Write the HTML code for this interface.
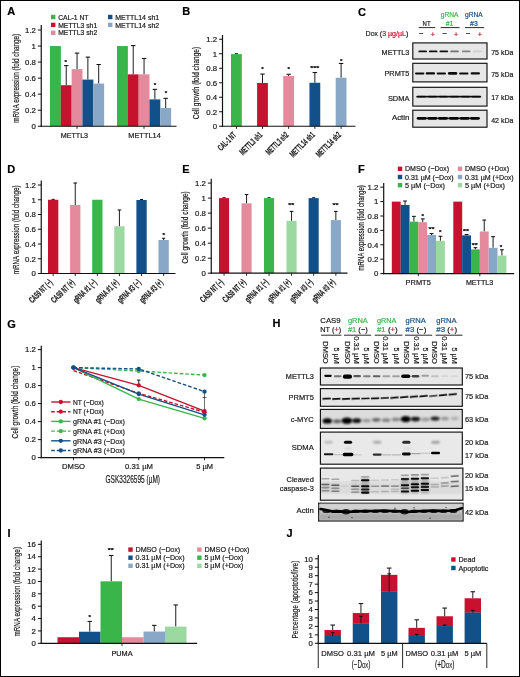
<!DOCTYPE html>
<html lang="en">
<head>
<meta charset="utf-8">
<title>Figure</title>
<style>
html,body{margin:0;padding:0;background:#fff;}
body{width:520px;height:677px;overflow:hidden;}
svg{display:block;will-change:transform;}
svg text{font-family:"Liberation Sans",sans-serif;stroke-width:0.2px;}
</style>
</head>
<body>
<svg width="520" height="677" viewBox="0 0 520 677">
<defs><filter id="b05" x="-50%" y="-300%" width="200%" height="700%"><feGaussianBlur stdDeviation="0.45"/></filter><filter id="b07" x="-50%" y="-300%" width="200%" height="700%"><feGaussianBlur stdDeviation="0.7"/></filter><filter id="b09" x="-50%" y="-300%" width="200%" height="700%"><feGaussianBlur stdDeviation="0.85"/></filter><filter id="b1" x="-50%" y="-300%" width="200%" height="700%"><feGaussianBlur stdDeviation="1.0"/></filter></defs>
<rect x="0" y="0" width="520" height="677" fill="#fff"/>
<text x="7.30" y="15.40" font-size="11" fill="#000" stroke="#000" font-weight="bold">A</text>
<rect x="50.00" y="46.05" width="10.87" height="80.20" fill="#3ab54a"/>
<line x1="66.23" y1="65.62" x2="66.23" y2="85.19" stroke="#111" stroke-width="0.95"/>
<line x1="64.03" y1="65.62" x2="68.43" y2="65.62" stroke="#111" stroke-width="1.05"/>
<rect x="60.82" y="85.19" width="10.87" height="41.06" fill="#c6122f"/>
<line x1="77.05" y1="53.11" x2="77.05" y2="69.15" stroke="#111" stroke-width="0.95"/>
<line x1="74.85" y1="53.11" x2="79.25" y2="53.11" stroke="#111" stroke-width="1.05"/>
<rect x="71.64" y="69.15" width="10.87" height="57.10" fill="#e38b9c"/>
<line x1="87.87" y1="57.12" x2="87.87" y2="79.57" stroke="#111" stroke-width="0.95"/>
<line x1="85.67" y1="57.12" x2="90.07" y2="57.12" stroke="#111" stroke-width="1.05"/>
<rect x="82.46" y="79.57" width="10.87" height="46.68" fill="#12508a"/>
<line x1="98.69" y1="64.50" x2="98.69" y2="83.58" stroke="#111" stroke-width="0.95"/>
<line x1="96.49" y1="64.50" x2="100.89" y2="64.50" stroke="#111" stroke-width="1.05"/>
<rect x="93.28" y="83.58" width="10.87" height="42.67" fill="#89a8c7"/>
<rect x="117.00" y="46.05" width="10.87" height="80.20" fill="#3ab54a"/>
<line x1="133.23" y1="45.57" x2="133.23" y2="74.36" stroke="#111" stroke-width="0.95"/>
<line x1="131.03" y1="45.57" x2="135.43" y2="45.57" stroke="#111" stroke-width="1.05"/>
<rect x="127.82" y="74.36" width="10.87" height="51.89" fill="#c6122f"/>
<line x1="144.05" y1="58.48" x2="144.05" y2="74.36" stroke="#111" stroke-width="0.95"/>
<line x1="141.85" y1="58.48" x2="146.25" y2="58.48" stroke="#111" stroke-width="1.05"/>
<rect x="138.64" y="74.36" width="10.87" height="51.89" fill="#e38b9c"/>
<line x1="154.87" y1="89.36" x2="154.87" y2="99.38" stroke="#111" stroke-width="0.95"/>
<line x1="152.67" y1="89.36" x2="157.07" y2="89.36" stroke="#111" stroke-width="1.05"/>
<rect x="149.46" y="99.38" width="10.87" height="26.87" fill="#12508a"/>
<line x1="165.69" y1="98.34" x2="165.69" y2="108.04" stroke="#111" stroke-width="0.95"/>
<line x1="163.49" y1="98.34" x2="167.89" y2="98.34" stroke="#111" stroke-width="1.05"/>
<rect x="160.28" y="108.04" width="10.87" height="18.21" fill="#89a8c7"/>
<line x1="41.25" y1="25.00" x2="41.25" y2="126.85" stroke="#111" stroke-width="1.2"/>
<line x1="40.65" y1="126.25" x2="176.50" y2="126.25" stroke="#111" stroke-width="1.2"/>
<line x1="37.85" y1="126.25" x2="41.25" y2="126.25" stroke="#111" stroke-width="1.0"/>
<text x="35.95" y="129.00" font-size="7.8" text-anchor="end" fill="#1a1a1a" stroke="#1a1a1a">0</text>
<line x1="37.85" y1="110.21" x2="41.25" y2="110.21" stroke="#111" stroke-width="1.0"/>
<text x="35.95" y="112.96" font-size="7.8" text-anchor="end" fill="#1a1a1a" stroke="#1a1a1a">0.2</text>
<line x1="37.85" y1="94.17" x2="41.25" y2="94.17" stroke="#111" stroke-width="1.0"/>
<text x="35.95" y="96.92" font-size="7.8" text-anchor="end" fill="#1a1a1a" stroke="#1a1a1a">0.4</text>
<line x1="37.85" y1="78.13" x2="41.25" y2="78.13" stroke="#111" stroke-width="1.0"/>
<text x="35.95" y="80.88" font-size="7.8" text-anchor="end" fill="#1a1a1a" stroke="#1a1a1a">0.6</text>
<line x1="37.85" y1="62.09" x2="41.25" y2="62.09" stroke="#111" stroke-width="1.0"/>
<text x="35.95" y="64.84" font-size="7.8" text-anchor="end" fill="#1a1a1a" stroke="#1a1a1a">0.8</text>
<line x1="37.85" y1="46.05" x2="41.25" y2="46.05" stroke="#111" stroke-width="1.0"/>
<text x="35.95" y="48.80" font-size="7.8" text-anchor="end" fill="#1a1a1a" stroke="#1a1a1a">1</text>
<line x1="37.85" y1="30.01" x2="41.25" y2="30.01" stroke="#111" stroke-width="1.0"/>
<text x="35.95" y="32.76" font-size="7.8" text-anchor="end" fill="#1a1a1a" stroke="#1a1a1a">1.2</text>
<line x1="77.00" y1="126.25" x2="77.00" y2="128.85" stroke="#111" stroke-width="0.9"/>
<line x1="144.00" y1="126.25" x2="144.00" y2="128.85" stroke="#111" stroke-width="0.9"/>
<text x="74.40" y="138.20" font-size="7.36" text-anchor="middle" fill="#1a1a1a" stroke="#1a1a1a" textLength="27.40" lengthAdjust="spacingAndGlyphs">METTL3</text>
<text x="144.50" y="138.20" font-size="7.62" text-anchor="middle" fill="#1a1a1a" stroke="#1a1a1a" textLength="32.50" lengthAdjust="spacingAndGlyphs">METTL14</text>
<text x="19.10" y="122.70" font-size="9.4" textLength="88.80" lengthAdjust="spacingAndGlyphs" fill="#1a1a1a" stroke="#1a1a1a" stroke-width="0.5" transform="rotate(-90 19.10 122.70)">mRNA expression (fold change)</text>
<text x="65.70" y="64.30" font-size="6.2" text-anchor="middle" fill="#000" stroke="#000" font-weight="bold">*</text>
<text x="155.00" y="86.50" font-size="6.2" text-anchor="middle" fill="#000" stroke="#000" font-weight="bold">*</text>
<text x="166.00" y="95.20" font-size="6.2" text-anchor="middle" fill="#000" stroke="#000" font-weight="bold">*</text>
<rect x="51.00" y="14.80" width="4.40" height="4.40" fill="#3ab54a"/>
<text x="58.20" y="19.60" font-size="7.02" fill="#1a1a1a" stroke="#1a1a1a" textLength="30.30" lengthAdjust="spacingAndGlyphs">CAL-1 NT</text>
<rect x="51.00" y="22.70" width="4.40" height="4.40" fill="#c6122f"/>
<text x="58.20" y="27.50" font-size="7.02" fill="#1a1a1a" stroke="#1a1a1a" textLength="39.00" lengthAdjust="spacingAndGlyphs">METTL3 sh1</text>
<rect x="51.00" y="30.60" width="4.40" height="4.40" fill="#e38b9c"/>
<text x="58.20" y="35.40" font-size="7.02" fill="#1a1a1a" stroke="#1a1a1a" textLength="39.00" lengthAdjust="spacingAndGlyphs">METTL3 sh2</text>
<rect x="108.00" y="14.80" width="4.40" height="4.40" fill="#12508a"/>
<text x="115.20" y="19.60" font-size="7.22" fill="#1a1a1a" stroke="#1a1a1a" textLength="44.00" lengthAdjust="spacingAndGlyphs">METTL14 sh1</text>
<rect x="108.00" y="22.70" width="4.40" height="4.40" fill="#89a8c7"/>
<text x="115.20" y="27.50" font-size="7.22" fill="#1a1a1a" stroke="#1a1a1a" textLength="44.00" lengthAdjust="spacingAndGlyphs">METTL14 sh2</text>
<text x="182.30" y="15.00" font-size="11" fill="#000" stroke="#000" font-weight="bold">B</text>
<line x1="236.40" y1="53.75" x2="236.40" y2="54.11" stroke="#111" stroke-width="0.95"/>
<line x1="234.80" y1="53.75" x2="238.00" y2="53.75" stroke="#111" stroke-width="1.05"/>
<rect x="231.00" y="54.11" width="10.80" height="72.14" fill="#3ab54a"/>
<line x1="262.50" y1="74.05" x2="262.50" y2="82.97" stroke="#111" stroke-width="0.95"/>
<line x1="260.30" y1="74.05" x2="264.70" y2="74.05" stroke="#111" stroke-width="1.05"/>
<rect x="257.10" y="82.97" width="10.80" height="43.28" fill="#c6122f"/>
<line x1="288.65" y1="74.27" x2="288.65" y2="76.01" stroke="#111" stroke-width="0.95"/>
<line x1="286.45" y1="74.27" x2="290.85" y2="74.27" stroke="#111" stroke-width="1.05"/>
<rect x="283.25" y="76.01" width="10.80" height="50.24" fill="#e38b9c"/>
<line x1="314.85" y1="72.53" x2="314.85" y2="82.75" stroke="#111" stroke-width="0.95"/>
<line x1="312.65" y1="72.53" x2="317.05" y2="72.53" stroke="#111" stroke-width="1.05"/>
<rect x="309.45" y="82.75" width="10.80" height="43.50" fill="#12508a"/>
<line x1="341.10" y1="63.47" x2="341.10" y2="77.75" stroke="#111" stroke-width="0.95"/>
<line x1="338.90" y1="63.47" x2="343.30" y2="63.47" stroke="#111" stroke-width="1.05"/>
<rect x="335.70" y="77.75" width="10.80" height="48.50" fill="#89a8c7"/>
<line x1="222.50" y1="35.00" x2="222.50" y2="126.85" stroke="#111" stroke-width="1.2"/>
<line x1="221.90" y1="126.25" x2="355.50" y2="126.25" stroke="#111" stroke-width="1.2"/>
<line x1="219.10" y1="126.25" x2="222.50" y2="126.25" stroke="#111" stroke-width="1.0"/>
<text x="217.20" y="129.00" font-size="7.8" text-anchor="end" fill="#1a1a1a" stroke="#1a1a1a">0</text>
<line x1="219.10" y1="111.75" x2="222.50" y2="111.75" stroke="#111" stroke-width="1.0"/>
<text x="217.20" y="114.50" font-size="7.8" text-anchor="end" fill="#1a1a1a" stroke="#1a1a1a">0.2</text>
<line x1="219.10" y1="97.25" x2="222.50" y2="97.25" stroke="#111" stroke-width="1.0"/>
<text x="217.20" y="100.00" font-size="7.8" text-anchor="end" fill="#1a1a1a" stroke="#1a1a1a">0.4</text>
<line x1="219.10" y1="82.75" x2="222.50" y2="82.75" stroke="#111" stroke-width="1.0"/>
<text x="217.20" y="85.50" font-size="7.8" text-anchor="end" fill="#1a1a1a" stroke="#1a1a1a">0.6</text>
<line x1="219.10" y1="68.25" x2="222.50" y2="68.25" stroke="#111" stroke-width="1.0"/>
<text x="217.20" y="71.00" font-size="7.8" text-anchor="end" fill="#1a1a1a" stroke="#1a1a1a">0.8</text>
<line x1="219.10" y1="53.75" x2="222.50" y2="53.75" stroke="#111" stroke-width="1.0"/>
<text x="217.20" y="56.50" font-size="7.8" text-anchor="end" fill="#1a1a1a" stroke="#1a1a1a">1</text>
<line x1="219.10" y1="39.25" x2="222.50" y2="39.25" stroke="#111" stroke-width="1.0"/>
<text x="217.20" y="42.00" font-size="7.8" text-anchor="end" fill="#1a1a1a" stroke="#1a1a1a">1.2</text>
<line x1="236.40" y1="126.25" x2="236.40" y2="128.85" stroke="#111" stroke-width="0.9"/>
<text x="236.90" y="135.65" font-size="9.0" text-anchor="end" textLength="22.00" lengthAdjust="spacingAndGlyphs" fill="#1a1a1a" stroke="#1a1a1a" stroke-width="0.25" font-weight="bold" transform="rotate(-45 236.90 135.65)">CAL-1 NT</text>
<line x1="262.50" y1="126.25" x2="262.50" y2="128.85" stroke="#111" stroke-width="0.9"/>
<text x="263.00" y="135.65" font-size="9.0" text-anchor="end" textLength="28.20" lengthAdjust="spacingAndGlyphs" fill="#1a1a1a" stroke="#1a1a1a" stroke-width="0.25" font-weight="bold" transform="rotate(-45 263.00 135.65)">METTL3 sh1</text>
<line x1="288.65" y1="126.25" x2="288.65" y2="128.85" stroke="#111" stroke-width="0.9"/>
<text x="289.15" y="135.65" font-size="9.0" text-anchor="end" textLength="28.20" lengthAdjust="spacingAndGlyphs" fill="#1a1a1a" stroke="#1a1a1a" stroke-width="0.25" font-weight="bold" transform="rotate(-45 289.15 135.65)">METTL3 sh2</text>
<line x1="314.85" y1="126.25" x2="314.85" y2="128.85" stroke="#111" stroke-width="0.9"/>
<text x="315.35" y="135.65" font-size="9.0" text-anchor="end" textLength="31.40" lengthAdjust="spacingAndGlyphs" fill="#1a1a1a" stroke="#1a1a1a" stroke-width="0.25" font-weight="bold" transform="rotate(-45 315.35 135.65)">METTL14 sh1</text>
<line x1="341.10" y1="126.25" x2="341.10" y2="128.85" stroke="#111" stroke-width="0.9"/>
<text x="341.60" y="135.65" font-size="9.0" text-anchor="end" textLength="31.40" lengthAdjust="spacingAndGlyphs" fill="#1a1a1a" stroke="#1a1a1a" stroke-width="0.25" font-weight="bold" transform="rotate(-45 341.60 135.65)">METTL14 sh2</text>
<text x="199.00" y="119.20" font-size="9.4" textLength="72.30" lengthAdjust="spacingAndGlyphs" fill="#1a1a1a" stroke="#1a1a1a" stroke-width="0.5" transform="rotate(-90 199.00 119.20)">Cell growth (fold change)</text>
<text x="262.40" y="70.90" font-size="6.2" text-anchor="middle" fill="#000" stroke="#000" font-weight="bold">*</text>
<text x="288.60" y="70.90" font-size="6.2" text-anchor="middle" fill="#000" stroke="#000" font-weight="bold">*</text>
<text x="314.80" y="70.20" font-size="6.2" text-anchor="middle" fill="#000" stroke="#000" font-weight="bold" textLength="8.90" lengthAdjust="spacingAndGlyphs">***</text>
<text x="341.10" y="62.50" font-size="6.2" text-anchor="middle" fill="#000" stroke="#000" font-weight="bold">*</text>
<text x="358.00" y="15.80" font-size="11" fill="#000" stroke="#000" font-weight="bold">C</text>
<text x="426.60" y="25.60" font-size="6.4" text-anchor="middle" fill="#1a1a1a" stroke="#1a1a1a" textLength="8.00" lengthAdjust="spacingAndGlyphs">NT</text>
<line x1="418.70" y1="27.60" x2="435.20" y2="27.60" stroke="#111" stroke-width="0.9"/>
<text x="449.60" y="16.80" font-size="6.8" text-anchor="middle" fill="#3ab54a" stroke="#3ab54a" textLength="17.60" lengthAdjust="spacingAndGlyphs">gRNA</text>
<text x="449.60" y="25.60" font-size="7.04" text-anchor="middle" fill="#3ab54a" stroke="#3ab54a" textLength="7.60" lengthAdjust="spacingAndGlyphs">#1</text>
<line x1="440.60" y1="27.60" x2="459.60" y2="27.60" stroke="#111" stroke-width="0.9"/>
<text x="473.90" y="16.80" font-size="6.8" text-anchor="middle" fill="#12508a" stroke="#12508a" textLength="17.60" lengthAdjust="spacingAndGlyphs">gRNA</text>
<text x="473.90" y="25.60" font-size="7.04" text-anchor="middle" fill="#12508a" stroke="#12508a" textLength="7.60" lengthAdjust="spacingAndGlyphs">#3</text>
<line x1="465.00" y1="27.60" x2="484.20" y2="27.60" stroke="#111" stroke-width="0.9"/>
<text x="365.60" y="36.00" font-size="7.23" fill="#1a1a1a" stroke="#1a1a1a" textLength="42.80" lengthAdjust="spacingAndGlyphs">D<tspan font-variant="small-caps">ox</tspan> (<tspan fill="#c6122f" stroke="#c6122f">3 µg/µL</tspan>)</text>
<text x="421.40" y="36.40" font-size="8" text-anchor="middle" fill="#1a1a1a" stroke="#1a1a1a">−</text>
<text x="432.90" y="36.60" font-size="8" text-anchor="middle" fill="#c6122f" stroke="#c6122f">+</text>
<text x="444.80" y="36.40" font-size="8" text-anchor="middle" fill="#1a1a1a" stroke="#1a1a1a">−</text>
<text x="456.10" y="36.60" font-size="8" text-anchor="middle" fill="#c6122f" stroke="#c6122f">+</text>
<text x="468.30" y="36.40" font-size="8" text-anchor="middle" fill="#1a1a1a" stroke="#1a1a1a">−</text>
<text x="479.90" y="36.60" font-size="8" text-anchor="middle" fill="#c6122f" stroke="#c6122f">+</text>
<rect x="412.80" y="42.90" width="74.20" height="16.10" fill="#e6e6e6" stroke="#111" stroke-width="1.15"/>
<rect x="418.40" y="50.45" width="8.60" height="1.90" rx="0.95" fill="#000" opacity="0.92" filter="url(#b05)"/>
<rect x="428.90" y="50.45" width="8.60" height="1.90" rx="0.95" fill="#000" opacity="0.95" filter="url(#b05)"/>
<rect x="439.50" y="50.45" width="8.60" height="1.90" rx="0.95" fill="#000" opacity="0.92" filter="url(#b05)"/>
<rect x="450.20" y="50.45" width="8.60" height="1.90" rx="0.95" fill="#000" opacity="0.5" filter="url(#b05)"/>
<rect x="461.90" y="50.45" width="8.60" height="1.90" rx="0.95" fill="#000" opacity="0.42" filter="url(#b05)"/>
<rect x="473.00" y="50.45" width="8.60" height="1.90" rx="0.95" fill="#000" opacity="0.1" filter="url(#b05)"/>
<rect x="412.80" y="63.30" width="74.20" height="18.60" fill="#e6e6e6" stroke="#111" stroke-width="1.15"/>
<rect x="415.00" y="72.40" width="9.40" height="2.00" rx="1.00" fill="#000" opacity="0.95" filter="url(#b05)"/>
<rect x="425.70" y="72.35" width="9.40" height="2.10" rx="1.05" fill="#000" opacity="0.95" filter="url(#b05)"/>
<rect x="436.60" y="72.40" width="9.40" height="2.00" rx="1.00" fill="#000" opacity="0.95" filter="url(#b05)"/>
<rect x="447.90" y="72.05" width="9.40" height="2.70" rx="1.35" fill="#000" opacity="0.95" filter="url(#b05)"/>
<rect x="459.10" y="72.40" width="9.40" height="2.00" rx="1.00" fill="#000" opacity="0.95" filter="url(#b05)"/>
<rect x="470.60" y="72.25" width="9.40" height="2.30" rx="1.15" fill="#000" opacity="0.95" filter="url(#b05)"/>
<rect x="412.80" y="87.30" width="74.20" height="18.80" fill="#e6e6e6" stroke="#111" stroke-width="1.15"/>
<rect x="416.20" y="95.85" width="65.00" height="1.70" rx="0.85" fill="#000" opacity="0.92" filter="url(#b05)"/>
<rect x="417.25" y="95.80" width="8.50" height="2.00" rx="1.00" fill="#000" opacity="0.5" filter="url(#b05)"/>
<rect x="428.25" y="95.80" width="8.50" height="2.00" rx="1.00" fill="#000" opacity="0.5" filter="url(#b05)"/>
<rect x="439.25" y="95.80" width="8.50" height="2.00" rx="1.00" fill="#000" opacity="0.5" filter="url(#b05)"/>
<rect x="450.25" y="95.80" width="8.50" height="2.00" rx="1.00" fill="#000" opacity="0.5" filter="url(#b05)"/>
<rect x="461.25" y="95.80" width="8.50" height="2.00" rx="1.00" fill="#000" opacity="0.5" filter="url(#b05)"/>
<rect x="471.75" y="95.80" width="8.50" height="2.00" rx="1.00" fill="#000" opacity="0.5" filter="url(#b05)"/>
<rect x="412.80" y="110.20" width="74.20" height="17.00" fill="#e6e6e6" stroke="#111" stroke-width="1.15"/>
<rect x="416.70" y="116.95" width="9.80" height="2.70" rx="1.35" fill="#000" opacity="0.95" filter="url(#b05)"/>
<rect x="427.40" y="116.95" width="9.80" height="2.70" rx="1.35" fill="#000" opacity="0.95" filter="url(#b05)"/>
<rect x="438.10" y="116.95" width="9.80" height="2.70" rx="1.35" fill="#000" opacity="0.95" filter="url(#b05)"/>
<rect x="448.90" y="116.95" width="9.80" height="2.70" rx="1.35" fill="#000" opacity="0.95" filter="url(#b05)"/>
<rect x="459.70" y="116.95" width="9.80" height="2.70" rx="1.35" fill="#000" opacity="0.95" filter="url(#b05)"/>
<rect x="470.10" y="116.95" width="9.80" height="2.70" rx="1.35" fill="#000" opacity="0.95" filter="url(#b05)"/>
<rect x="417.30" y="117.60" width="62.00" height="1.60" rx="0.80" fill="#000" opacity="0.8" filter="url(#b05)"/>
<text x="409.40" y="54.90" font-size="7.47" text-anchor="end" fill="#1a1a1a" stroke="#1a1a1a" textLength="27.80" lengthAdjust="spacingAndGlyphs">METTL3</text>
<text x="409.40" y="75.50" font-size="7.6" text-anchor="end" fill="#1a1a1a" stroke="#1a1a1a" textLength="25.00" lengthAdjust="spacingAndGlyphs">PRMT5</text>
<text x="409.40" y="100.60" font-size="7.66" text-anchor="end" fill="#1a1a1a" stroke="#1a1a1a" textLength="21.50" lengthAdjust="spacingAndGlyphs">SDMA</text>
<text x="409.40" y="120.40" font-size="8.0" text-anchor="end" fill="#1a1a1a" stroke="#1a1a1a" textLength="17.50" lengthAdjust="spacingAndGlyphs">Actin</text>
<text x="491.20" y="54.60" font-size="7.22" fill="#1a1a1a" stroke="#1a1a1a" textLength="22.20" lengthAdjust="spacingAndGlyphs">75 kDa</text>
<text x="491.20" y="76.80" font-size="7.22" fill="#1a1a1a" stroke="#1a1a1a" textLength="22.20" lengthAdjust="spacingAndGlyphs">75 kDa</text>
<text x="491.20" y="99.70" font-size="7.22" fill="#1a1a1a" stroke="#1a1a1a" textLength="22.20" lengthAdjust="spacingAndGlyphs">17 kDa</text>
<text x="491.20" y="123.20" font-size="7.22" fill="#1a1a1a" stroke="#1a1a1a" textLength="22.20" lengthAdjust="spacingAndGlyphs">42 kDa</text>
<text x="7.30" y="173.00" font-size="11" fill="#000" stroke="#000" font-weight="bold">D</text>
<line x1="53.15" y1="199.38" x2="53.15" y2="199.75" stroke="#111" stroke-width="0.95"/>
<line x1="51.65" y1="199.38" x2="54.65" y2="199.38" stroke="#111" stroke-width="1.05"/>
<rect x="48.00" y="199.75" width="10.30" height="73.75" fill="#c6122f"/>
<line x1="75.25" y1="183.01" x2="75.25" y2="204.99" stroke="#111" stroke-width="0.95"/>
<line x1="73.45" y1="183.01" x2="77.05" y2="183.01" stroke="#111" stroke-width="1.05"/>
<rect x="70.10" y="204.99" width="10.30" height="68.51" fill="#e38b9c"/>
<rect x="92.20" y="199.75" width="10.30" height="73.75" fill="#3ab54a"/>
<line x1="119.40" y1="210.00" x2="119.40" y2="226.30" stroke="#111" stroke-width="0.95"/>
<line x1="117.60" y1="210.00" x2="121.20" y2="210.00" stroke="#111" stroke-width="1.05"/>
<rect x="114.25" y="226.30" width="10.30" height="47.20" fill="#9cd9a1"/>
<line x1="141.55" y1="199.53" x2="141.55" y2="199.97" stroke="#111" stroke-width="0.95"/>
<line x1="140.05" y1="199.53" x2="143.05" y2="199.53" stroke="#111" stroke-width="1.05"/>
<rect x="136.40" y="199.97" width="10.30" height="73.53" fill="#12508a"/>
<line x1="163.65" y1="238.25" x2="163.65" y2="240.02" stroke="#111" stroke-width="0.95"/>
<line x1="162.15" y1="238.25" x2="165.15" y2="238.25" stroke="#111" stroke-width="1.05"/>
<rect x="158.50" y="240.02" width="10.30" height="33.48" fill="#89a8c7"/>
<line x1="41.25" y1="180.50" x2="41.25" y2="274.10" stroke="#111" stroke-width="1.2"/>
<line x1="40.65" y1="273.50" x2="175.50" y2="273.50" stroke="#111" stroke-width="1.2"/>
<line x1="37.85" y1="273.50" x2="41.25" y2="273.50" stroke="#111" stroke-width="1.0"/>
<text x="35.95" y="276.25" font-size="7.8" text-anchor="end" fill="#1a1a1a" stroke="#1a1a1a">0</text>
<line x1="37.85" y1="258.75" x2="41.25" y2="258.75" stroke="#111" stroke-width="1.0"/>
<text x="35.95" y="261.50" font-size="7.8" text-anchor="end" fill="#1a1a1a" stroke="#1a1a1a">0.2</text>
<line x1="37.85" y1="244.00" x2="41.25" y2="244.00" stroke="#111" stroke-width="1.0"/>
<text x="35.95" y="246.75" font-size="7.8" text-anchor="end" fill="#1a1a1a" stroke="#1a1a1a">0.4</text>
<line x1="37.85" y1="229.25" x2="41.25" y2="229.25" stroke="#111" stroke-width="1.0"/>
<text x="35.95" y="232.00" font-size="7.8" text-anchor="end" fill="#1a1a1a" stroke="#1a1a1a">0.6</text>
<line x1="37.85" y1="214.50" x2="41.25" y2="214.50" stroke="#111" stroke-width="1.0"/>
<text x="35.95" y="217.25" font-size="7.8" text-anchor="end" fill="#1a1a1a" stroke="#1a1a1a">0.8</text>
<line x1="37.85" y1="199.75" x2="41.25" y2="199.75" stroke="#111" stroke-width="1.0"/>
<text x="35.95" y="202.50" font-size="7.8" text-anchor="end" fill="#1a1a1a" stroke="#1a1a1a">1</text>
<line x1="37.85" y1="185.00" x2="41.25" y2="185.00" stroke="#111" stroke-width="1.0"/>
<text x="35.95" y="187.75" font-size="7.8" text-anchor="end" fill="#1a1a1a" stroke="#1a1a1a">1.2</text>
<line x1="53.15" y1="273.50" x2="53.15" y2="276.10" stroke="#111" stroke-width="0.9"/>
<text x="52.95" y="283.10" font-size="9.0" text-anchor="end" textLength="29.00" lengthAdjust="spacingAndGlyphs" fill="#1a1a1a" stroke="#1a1a1a" stroke-width="0.25" font-weight="bold" transform="rotate(-45 52.95 283.10)">CAS9 NT (−)</text>
<line x1="75.25" y1="273.50" x2="75.25" y2="276.10" stroke="#111" stroke-width="0.9"/>
<text x="75.05" y="283.10" font-size="9.0" text-anchor="end" textLength="29.00" lengthAdjust="spacingAndGlyphs" fill="#1a1a1a" stroke="#1a1a1a" stroke-width="0.25" font-weight="bold" transform="rotate(-45 75.05 283.10)">CAS9 NT (+)</text>
<line x1="97.35" y1="273.50" x2="97.35" y2="276.10" stroke="#111" stroke-width="0.9"/>
<text x="97.15" y="283.10" font-size="9.0" text-anchor="end" textLength="29.00" lengthAdjust="spacingAndGlyphs" fill="#1a1a1a" stroke="#1a1a1a" stroke-width="0.25" font-weight="bold" transform="rotate(-45 97.15 283.10)">gRNA #1 (−)</text>
<line x1="119.40" y1="273.50" x2="119.40" y2="276.10" stroke="#111" stroke-width="0.9"/>
<text x="119.20" y="283.10" font-size="9.0" text-anchor="end" textLength="29.00" lengthAdjust="spacingAndGlyphs" fill="#1a1a1a" stroke="#1a1a1a" stroke-width="0.25" font-weight="bold" transform="rotate(-45 119.20 283.10)">gRNA #1 (+)</text>
<line x1="141.55" y1="273.50" x2="141.55" y2="276.10" stroke="#111" stroke-width="0.9"/>
<text x="141.35" y="283.10" font-size="9.0" text-anchor="end" textLength="29.00" lengthAdjust="spacingAndGlyphs" fill="#1a1a1a" stroke="#1a1a1a" stroke-width="0.25" font-weight="bold" transform="rotate(-45 141.35 283.10)">gRNA #3 (−)</text>
<line x1="163.65" y1="273.50" x2="163.65" y2="276.10" stroke="#111" stroke-width="0.9"/>
<text x="163.45" y="283.10" font-size="9.0" text-anchor="end" textLength="29.00" lengthAdjust="spacingAndGlyphs" fill="#1a1a1a" stroke="#1a1a1a" stroke-width="0.25" font-weight="bold" transform="rotate(-45 163.45 283.10)">gRNA #3 (+)</text>
<text x="19.10" y="274.30" font-size="9.4" textLength="89.00" lengthAdjust="spacingAndGlyphs" fill="#1a1a1a" stroke="#1a1a1a" stroke-width="0.5" transform="rotate(-90 19.10 274.30)">mRNA expression (fold change)</text>
<text x="163.70" y="236.50" font-size="6.2" text-anchor="middle" fill="#000" stroke="#000" font-weight="bold">*</text>
<text x="182.30" y="173.00" font-size="11" fill="#000" stroke="#000" font-weight="bold">E</text>
<line x1="224.05" y1="197.72" x2="224.05" y2="198.10" stroke="#111" stroke-width="0.95"/>
<line x1="222.55" y1="197.72" x2="225.55" y2="197.72" stroke="#111" stroke-width="1.05"/>
<rect x="219.00" y="198.10" width="10.10" height="75.10" fill="#c6122f"/>
<line x1="246.55" y1="194.57" x2="246.55" y2="203.36" stroke="#111" stroke-width="0.95"/>
<line x1="244.75" y1="194.57" x2="248.35" y2="194.57" stroke="#111" stroke-width="1.05"/>
<rect x="241.50" y="203.36" width="10.10" height="69.84" fill="#e38b9c"/>
<line x1="269.05" y1="197.72" x2="269.05" y2="198.10" stroke="#111" stroke-width="0.95"/>
<line x1="267.55" y1="197.72" x2="270.55" y2="197.72" stroke="#111" stroke-width="1.05"/>
<rect x="264.00" y="198.10" width="10.10" height="75.10" fill="#3ab54a"/>
<line x1="291.55" y1="211.39" x2="291.55" y2="220.86" stroke="#111" stroke-width="0.95"/>
<line x1="289.75" y1="211.39" x2="293.35" y2="211.39" stroke="#111" stroke-width="1.05"/>
<rect x="286.50" y="220.86" width="10.10" height="52.34" fill="#9cd9a1"/>
<line x1="313.65" y1="197.72" x2="313.65" y2="198.10" stroke="#111" stroke-width="0.95"/>
<line x1="312.15" y1="197.72" x2="315.15" y2="197.72" stroke="#111" stroke-width="1.05"/>
<rect x="308.60" y="198.10" width="10.10" height="75.10" fill="#12508a"/>
<line x1="335.85" y1="211.39" x2="335.85" y2="220.10" stroke="#111" stroke-width="0.95"/>
<line x1="334.05" y1="211.39" x2="337.65" y2="211.39" stroke="#111" stroke-width="1.05"/>
<rect x="330.80" y="220.10" width="10.10" height="53.10" fill="#89a8c7"/>
<line x1="211.25" y1="178.75" x2="211.25" y2="273.80" stroke="#111" stroke-width="1.2"/>
<line x1="210.65" y1="273.20" x2="347.50" y2="273.20" stroke="#111" stroke-width="1.2"/>
<line x1="207.85" y1="273.20" x2="211.25" y2="273.20" stroke="#111" stroke-width="1.0"/>
<text x="205.95" y="275.95" font-size="7.8" text-anchor="end" fill="#1a1a1a" stroke="#1a1a1a">0</text>
<line x1="207.85" y1="258.18" x2="211.25" y2="258.18" stroke="#111" stroke-width="1.0"/>
<text x="205.95" y="260.93" font-size="7.8" text-anchor="end" fill="#1a1a1a" stroke="#1a1a1a">0.2</text>
<line x1="207.85" y1="243.16" x2="211.25" y2="243.16" stroke="#111" stroke-width="1.0"/>
<text x="205.95" y="245.91" font-size="7.8" text-anchor="end" fill="#1a1a1a" stroke="#1a1a1a">0.4</text>
<line x1="207.85" y1="228.14" x2="211.25" y2="228.14" stroke="#111" stroke-width="1.0"/>
<text x="205.95" y="230.89" font-size="7.8" text-anchor="end" fill="#1a1a1a" stroke="#1a1a1a">0.6</text>
<line x1="207.85" y1="213.12" x2="211.25" y2="213.12" stroke="#111" stroke-width="1.0"/>
<text x="205.95" y="215.87" font-size="7.8" text-anchor="end" fill="#1a1a1a" stroke="#1a1a1a">0.8</text>
<line x1="207.85" y1="198.10" x2="211.25" y2="198.10" stroke="#111" stroke-width="1.0"/>
<text x="205.95" y="200.85" font-size="7.8" text-anchor="end" fill="#1a1a1a" stroke="#1a1a1a">1</text>
<line x1="207.85" y1="183.08" x2="211.25" y2="183.08" stroke="#111" stroke-width="1.0"/>
<text x="205.95" y="185.83" font-size="7.8" text-anchor="end" fill="#1a1a1a" stroke="#1a1a1a">1.2</text>
<line x1="224.05" y1="273.20" x2="224.05" y2="275.80" stroke="#111" stroke-width="0.9"/>
<text x="223.85" y="282.80" font-size="9.0" text-anchor="end" textLength="28.60" lengthAdjust="spacingAndGlyphs" fill="#1a1a1a" stroke="#1a1a1a" stroke-width="0.25" font-weight="bold" transform="rotate(-45 223.85 282.80)">CAS9 NT (−)</text>
<line x1="246.55" y1="273.20" x2="246.55" y2="275.80" stroke="#111" stroke-width="0.9"/>
<text x="246.35" y="282.80" font-size="9.0" text-anchor="end" textLength="28.60" lengthAdjust="spacingAndGlyphs" fill="#1a1a1a" stroke="#1a1a1a" stroke-width="0.25" font-weight="bold" transform="rotate(-45 246.35 282.80)">CAS9 NT (+)</text>
<line x1="269.05" y1="273.20" x2="269.05" y2="275.80" stroke="#111" stroke-width="0.9"/>
<text x="268.85" y="282.80" font-size="9.0" text-anchor="end" textLength="28.60" lengthAdjust="spacingAndGlyphs" fill="#1a1a1a" stroke="#1a1a1a" stroke-width="0.25" font-weight="bold" transform="rotate(-45 268.85 282.80)">gRNA #1 (−)</text>
<line x1="291.55" y1="273.20" x2="291.55" y2="275.80" stroke="#111" stroke-width="0.9"/>
<text x="291.35" y="282.80" font-size="9.0" text-anchor="end" textLength="28.60" lengthAdjust="spacingAndGlyphs" fill="#1a1a1a" stroke="#1a1a1a" stroke-width="0.25" font-weight="bold" transform="rotate(-45 291.35 282.80)">gRNA #1 (+)</text>
<line x1="313.65" y1="273.20" x2="313.65" y2="275.80" stroke="#111" stroke-width="0.9"/>
<text x="313.45" y="282.80" font-size="9.0" text-anchor="end" textLength="28.60" lengthAdjust="spacingAndGlyphs" fill="#1a1a1a" stroke="#1a1a1a" stroke-width="0.25" font-weight="bold" transform="rotate(-45 313.45 282.80)">gRNA #3 (−)</text>
<line x1="335.85" y1="273.20" x2="335.85" y2="275.80" stroke="#111" stroke-width="0.9"/>
<text x="335.65" y="282.80" font-size="9.0" text-anchor="end" textLength="28.60" lengthAdjust="spacingAndGlyphs" fill="#1a1a1a" stroke="#1a1a1a" stroke-width="0.25" font-weight="bold" transform="rotate(-45 335.65 282.80)">gRNA #3 (+)</text>
<text x="188.30" y="263.60" font-size="9.4" textLength="72.30" lengthAdjust="spacingAndGlyphs" fill="#1a1a1a" stroke="#1a1a1a" stroke-width="0.5" transform="rotate(-90 188.30 263.60)">Cell growth (fold change)</text>
<text x="291.30" y="207.20" font-size="6.2" text-anchor="middle" fill="#000" stroke="#000" font-weight="bold" textLength="5.90" lengthAdjust="spacingAndGlyphs">**</text>
<text x="335.40" y="207.20" font-size="6.2" text-anchor="middle" fill="#000" stroke="#000" font-weight="bold" textLength="5.90" lengthAdjust="spacingAndGlyphs">**</text>
<text x="358.00" y="173.20" font-size="11" fill="#000" stroke="#000" font-weight="bold">F</text>
<rect x="391.80" y="201.60" width="8.89" height="72.00" fill="#c6122f"/>
<line x1="405.06" y1="201.02" x2="405.06" y2="204.91" stroke="#111" stroke-width="0.95"/>
<line x1="403.16" y1="201.02" x2="406.96" y2="201.02" stroke="#111" stroke-width="1.05"/>
<rect x="400.64" y="204.91" width="8.89" height="68.69" fill="#12508a"/>
<line x1="413.90" y1="216.36" x2="413.90" y2="221.62" stroke="#111" stroke-width="0.95"/>
<line x1="412.00" y1="216.36" x2="415.80" y2="216.36" stroke="#111" stroke-width="1.05"/>
<rect x="409.48" y="221.62" width="8.89" height="51.98" fill="#3ab54a"/>
<line x1="422.74" y1="218.88" x2="422.74" y2="222.19" stroke="#111" stroke-width="0.95"/>
<line x1="420.84" y1="218.88" x2="424.64" y2="218.88" stroke="#111" stroke-width="1.05"/>
<rect x="418.32" y="222.19" width="8.89" height="51.41" fill="#e38b9c"/>
<line x1="431.58" y1="233.57" x2="431.58" y2="235.01" stroke="#111" stroke-width="0.95"/>
<line x1="429.68" y1="233.57" x2="433.48" y2="233.57" stroke="#111" stroke-width="1.05"/>
<rect x="427.16" y="235.01" width="8.89" height="38.59" fill="#89a8c7"/>
<line x1="440.42" y1="236.30" x2="440.42" y2="240.84" stroke="#111" stroke-width="0.95"/>
<line x1="438.52" y1="236.30" x2="442.32" y2="236.30" stroke="#111" stroke-width="1.05"/>
<rect x="436.00" y="240.84" width="8.89" height="32.76" fill="#9cd9a1"/>
<rect x="453.30" y="201.60" width="8.89" height="72.00" fill="#c6122f"/>
<line x1="466.56" y1="234.50" x2="466.56" y2="235.37" stroke="#111" stroke-width="0.95"/>
<line x1="464.66" y1="234.50" x2="468.46" y2="234.50" stroke="#111" stroke-width="1.05"/>
<rect x="462.14" y="235.37" width="8.89" height="38.23" fill="#12508a"/>
<line x1="475.40" y1="247.68" x2="475.40" y2="249.41" stroke="#111" stroke-width="0.95"/>
<line x1="473.50" y1="247.68" x2="477.30" y2="247.68" stroke="#111" stroke-width="1.05"/>
<rect x="470.98" y="249.41" width="8.89" height="24.19" fill="#3ab54a"/>
<line x1="484.24" y1="220.03" x2="484.24" y2="231.48" stroke="#111" stroke-width="0.95"/>
<line x1="482.34" y1="220.03" x2="486.14" y2="220.03" stroke="#111" stroke-width="1.05"/>
<rect x="479.82" y="231.48" width="8.89" height="42.12" fill="#e38b9c"/>
<line x1="493.08" y1="236.66" x2="493.08" y2="247.82" stroke="#111" stroke-width="0.95"/>
<line x1="491.18" y1="236.66" x2="494.98" y2="236.66" stroke="#111" stroke-width="1.05"/>
<rect x="488.66" y="247.82" width="8.89" height="25.78" fill="#89a8c7"/>
<line x1="501.92" y1="249.77" x2="501.92" y2="255.60" stroke="#111" stroke-width="0.95"/>
<line x1="500.02" y1="249.77" x2="503.82" y2="249.77" stroke="#111" stroke-width="1.05"/>
<rect x="497.50" y="255.60" width="8.89" height="18.00" fill="#9cd9a1"/>
<line x1="383.70" y1="183.00" x2="383.70" y2="274.20" stroke="#111" stroke-width="1.2"/>
<line x1="383.10" y1="273.60" x2="514.20" y2="273.60" stroke="#111" stroke-width="1.2"/>
<line x1="380.30" y1="273.60" x2="383.70" y2="273.60" stroke="#111" stroke-width="1.0"/>
<text x="378.40" y="276.35" font-size="7.8" text-anchor="end" fill="#1a1a1a" stroke="#1a1a1a">0</text>
<line x1="380.30" y1="259.20" x2="383.70" y2="259.20" stroke="#111" stroke-width="1.0"/>
<text x="378.40" y="261.95" font-size="7.8" text-anchor="end" fill="#1a1a1a" stroke="#1a1a1a">0.2</text>
<line x1="380.30" y1="244.80" x2="383.70" y2="244.80" stroke="#111" stroke-width="1.0"/>
<text x="378.40" y="247.55" font-size="7.8" text-anchor="end" fill="#1a1a1a" stroke="#1a1a1a">0.4</text>
<line x1="380.30" y1="230.40" x2="383.70" y2="230.40" stroke="#111" stroke-width="1.0"/>
<text x="378.40" y="233.15" font-size="7.8" text-anchor="end" fill="#1a1a1a" stroke="#1a1a1a">0.6</text>
<line x1="380.30" y1="216.00" x2="383.70" y2="216.00" stroke="#111" stroke-width="1.0"/>
<text x="378.40" y="218.75" font-size="7.8" text-anchor="end" fill="#1a1a1a" stroke="#1a1a1a">0.8</text>
<line x1="380.30" y1="201.60" x2="383.70" y2="201.60" stroke="#111" stroke-width="1.0"/>
<text x="378.40" y="204.35" font-size="7.8" text-anchor="end" fill="#1a1a1a" stroke="#1a1a1a">1</text>
<line x1="380.30" y1="187.20" x2="383.70" y2="187.20" stroke="#111" stroke-width="1.0"/>
<text x="378.40" y="189.95" font-size="7.8" text-anchor="end" fill="#1a1a1a" stroke="#1a1a1a">1.2</text>
<line x1="418.30" y1="273.60" x2="418.30" y2="276.20" stroke="#111" stroke-width="0.9"/>
<line x1="479.80" y1="273.60" x2="479.80" y2="276.20" stroke="#111" stroke-width="0.9"/>
<text x="418.20" y="285.40" font-size="7.66" text-anchor="middle" fill="#1a1a1a" stroke="#1a1a1a" textLength="25.20" lengthAdjust="spacingAndGlyphs">PRMT5</text>
<text x="479.60" y="285.40" font-size="7.36" text-anchor="middle" fill="#1a1a1a" stroke="#1a1a1a" textLength="27.40" lengthAdjust="spacingAndGlyphs">METTL3</text>
<text x="363.60" y="270.40" font-size="9.4" textLength="85.20" lengthAdjust="spacingAndGlyphs" fill="#1a1a1a" stroke="#1a1a1a" stroke-width="0.5" transform="rotate(-90 363.60 270.40)">mRNA expression (fold change)</text>
<text x="422.60" y="217.60" font-size="6.2" text-anchor="middle" fill="#000" stroke="#000" font-weight="bold">*</text>
<text x="431.40" y="231.40" font-size="6.2" text-anchor="middle" fill="#000" stroke="#000" font-weight="bold" textLength="5.90" lengthAdjust="spacingAndGlyphs">**</text>
<text x="440.30" y="234.00" font-size="6.2" text-anchor="middle" fill="#000" stroke="#000" font-weight="bold">*</text>
<text x="466.00" y="232.80" font-size="6.2" text-anchor="middle" fill="#000" stroke="#000" font-weight="bold" textLength="5.90" lengthAdjust="spacingAndGlyphs">**</text>
<text x="474.70" y="246.50" font-size="6.2" text-anchor="middle" fill="#000" stroke="#000" font-weight="bold" textLength="5.90" lengthAdjust="spacingAndGlyphs">**</text>
<text x="501.00" y="248.70" font-size="6.2" text-anchor="middle" fill="#000" stroke="#000" font-weight="bold">*</text>
<rect x="397.80" y="166.60" width="4.40" height="4.40" fill="#c6122f"/>
<text x="405.00" y="171.40" font-size="7.19" fill="#1a1a1a" stroke="#1a1a1a" textLength="44.00" lengthAdjust="spacingAndGlyphs">DMSO (−D<tspan font-variant="small-caps">ox</tspan>)</text>
<rect x="397.80" y="174.80" width="4.40" height="4.40" fill="#12508a"/>
<text x="405.00" y="179.60" font-size="7.21" fill="#1a1a1a" stroke="#1a1a1a" textLength="48.60" lengthAdjust="spacingAndGlyphs">0.31 µM (−D<tspan font-variant="small-caps">ox</tspan>)</text>
<rect x="397.80" y="183.00" width="4.40" height="4.40" fill="#3ab54a"/>
<text x="405.00" y="187.80" font-size="7.42" fill="#1a1a1a" stroke="#1a1a1a" textLength="40.00" lengthAdjust="spacingAndGlyphs">5 µM (−D<tspan font-variant="small-caps">ox</tspan>)</text>
<rect x="457.80" y="166.60" width="4.40" height="4.40" fill="#e38b9c"/>
<text x="465.00" y="171.40" font-size="7.19" fill="#1a1a1a" stroke="#1a1a1a" textLength="44.00" lengthAdjust="spacingAndGlyphs">DMSO (+D<tspan font-variant="small-caps">ox</tspan>)</text>
<rect x="457.80" y="174.80" width="4.40" height="4.40" fill="#89a8c7"/>
<text x="465.00" y="179.60" font-size="7.21" fill="#1a1a1a" stroke="#1a1a1a" textLength="48.60" lengthAdjust="spacingAndGlyphs">0.31 µM (+D<tspan font-variant="small-caps">ox</tspan>)</text>
<rect x="457.80" y="183.00" width="4.40" height="4.40" fill="#9cd9a1"/>
<text x="465.00" y="187.80" font-size="7.42" fill="#1a1a1a" stroke="#1a1a1a" textLength="40.00" lengthAdjust="spacingAndGlyphs">5 µM (+D<tspan font-variant="small-caps">ox</tspan>)</text>
<text x="7.30" y="328.00" font-size="11" fill="#000" stroke="#000" font-weight="bold">G</text>
<line x1="138.75" y1="380.11" x2="138.75" y2="385.33" stroke="#111" stroke-width="0.95"/>
<line x1="137.05" y1="380.11" x2="140.45" y2="380.11" stroke="#111" stroke-width="1.05"/>
<line x1="204.50" y1="391.63" x2="204.50" y2="409.90" stroke="#222" stroke-width="0.65"/>
<line x1="202.60" y1="397.57" x2="206.40" y2="397.57" stroke="#222" stroke-width="0.75"/>
<polyline points="73.50,367.60 138.75,385.33 204.50,411.07" fill="none" stroke="#c6122f" stroke-width="1.4"/>
<circle cx="73.50" cy="367.60" r="2.15" fill="#c6122f"/>
<circle cx="138.75" cy="385.33" r="2.15" fill="#c6122f"/>
<circle cx="204.50" cy="411.07" r="2.15" fill="#c6122f"/>
<polyline points="73.50,370.57 138.75,393.34 204.50,412.15" fill="none" stroke="#c6122f" stroke-width="1.4" stroke-dasharray="3.6 2.0"/>
<circle cx="138.75" cy="393.34" r="2.15" fill="#c6122f"/>
<circle cx="204.50" cy="412.15" r="2.15" fill="#c6122f"/>
<polyline points="73.50,367.60 138.75,399.10 204.50,418.36" fill="none" stroke="#3ab54a" stroke-width="1.4"/>
<circle cx="73.50" cy="367.60" r="2.15" fill="#3ab54a"/>
<circle cx="138.75" cy="399.10" r="2.15" fill="#3ab54a"/>
<circle cx="204.50" cy="418.36" r="2.15" fill="#3ab54a"/>
<polyline points="73.50,367.60 138.75,371.02 204.50,375.07" fill="none" stroke="#3ab54a" stroke-width="1.4" stroke-dasharray="3.6 2.0"/>
<circle cx="73.50" cy="367.60" r="2.15" fill="#3ab54a"/>
<circle cx="138.75" cy="371.02" r="2.15" fill="#3ab54a"/>
<circle cx="204.50" cy="375.07" r="2.15" fill="#3ab54a"/>
<polyline points="73.50,367.60 138.75,394.06 204.50,414.85" fill="none" stroke="#12508a" stroke-width="1.4"/>
<circle cx="73.50" cy="367.60" r="2.15" fill="#12508a"/>
<circle cx="138.75" cy="394.06" r="2.15" fill="#12508a"/>
<circle cx="204.50" cy="414.85" r="2.15" fill="#12508a"/>
<polyline points="73.50,367.60 138.75,368.95 204.50,391.63" fill="none" stroke="#12508a" stroke-width="1.4" stroke-dasharray="3.6 2.0"/>
<circle cx="73.50" cy="367.60" r="2.15" fill="#12508a"/>
<circle cx="138.75" cy="368.95" r="2.15" fill="#12508a"/>
<circle cx="204.50" cy="391.63" r="2.15" fill="#12508a"/>
<line x1="41.25" y1="345.75" x2="41.25" y2="458.20" stroke="#111" stroke-width="1.2"/>
<line x1="40.65" y1="457.60" x2="224.30" y2="457.60" stroke="#111" stroke-width="1.2"/>
<line x1="37.85" y1="457.60" x2="41.25" y2="457.60" stroke="#111" stroke-width="1.0"/>
<text x="35.95" y="460.35" font-size="7.8" text-anchor="end" fill="#1a1a1a" stroke="#1a1a1a">0</text>
<line x1="37.85" y1="439.60" x2="41.25" y2="439.60" stroke="#111" stroke-width="1.0"/>
<text x="35.95" y="442.35" font-size="7.8" text-anchor="end" fill="#1a1a1a" stroke="#1a1a1a">0.2</text>
<line x1="37.85" y1="421.60" x2="41.25" y2="421.60" stroke="#111" stroke-width="1.0"/>
<text x="35.95" y="424.35" font-size="7.8" text-anchor="end" fill="#1a1a1a" stroke="#1a1a1a">0.4</text>
<line x1="37.85" y1="403.60" x2="41.25" y2="403.60" stroke="#111" stroke-width="1.0"/>
<text x="35.95" y="406.35" font-size="7.8" text-anchor="end" fill="#1a1a1a" stroke="#1a1a1a">0.6</text>
<line x1="37.85" y1="385.60" x2="41.25" y2="385.60" stroke="#111" stroke-width="1.0"/>
<text x="35.95" y="388.35" font-size="7.8" text-anchor="end" fill="#1a1a1a" stroke="#1a1a1a">0.8</text>
<line x1="37.85" y1="367.60" x2="41.25" y2="367.60" stroke="#111" stroke-width="1.0"/>
<text x="35.95" y="370.35" font-size="7.8" text-anchor="end" fill="#1a1a1a" stroke="#1a1a1a">1</text>
<line x1="37.85" y1="349.60" x2="41.25" y2="349.60" stroke="#111" stroke-width="1.0"/>
<text x="35.95" y="352.35" font-size="7.8" text-anchor="end" fill="#1a1a1a" stroke="#1a1a1a">1.2</text>
<line x1="73.50" y1="457.60" x2="73.50" y2="460.20" stroke="#111" stroke-width="0.9"/>
<line x1="138.75" y1="457.60" x2="138.75" y2="460.20" stroke="#111" stroke-width="0.9"/>
<line x1="204.50" y1="457.60" x2="204.50" y2="460.20" stroke="#111" stroke-width="0.9"/>
<text x="73.50" y="469.40" font-size="7.9" text-anchor="middle" fill="#1a1a1a" stroke="#1a1a1a" textLength="23.00" lengthAdjust="spacingAndGlyphs">DMSO</text>
<text x="139.00" y="469.40" font-size="7.94" text-anchor="middle" fill="#1a1a1a" stroke="#1a1a1a" textLength="28.00" lengthAdjust="spacingAndGlyphs">0.31 µM</text>
<text x="204.60" y="469.40" font-size="7.71" text-anchor="middle" fill="#1a1a1a" stroke="#1a1a1a" textLength="16.80" lengthAdjust="spacingAndGlyphs">5 µM</text>
<text x="132.80" y="482.60" font-size="10.4" text-anchor="middle" fill="#1a1a1a" stroke="#1a1a1a" stroke-width="0.45" textLength="54.50" lengthAdjust="spacingAndGlyphs">GSK3326595 (µM)</text>
<text x="17.80" y="438.50" font-size="9.4" textLength="72.90" lengthAdjust="spacingAndGlyphs" fill="#1a1a1a" stroke="#1a1a1a" stroke-width="0.5" transform="rotate(-90 17.80 438.50)">Cell growth (fold change)</text>
<line x1="51.20" y1="402.00" x2="70.50" y2="402.00" stroke="#c6122f" stroke-width="1.4"/>
<circle cx="60.8" cy="402.00" r="2.15" fill="#c6122f"/>
<text x="73.00" y="404.70" font-size="6.86" fill="#1a1a1a" stroke="#1a1a1a" textLength="30.80" lengthAdjust="spacingAndGlyphs">NT (−D<tspan font-variant="small-caps">ox</tspan>)</text>
<line x1="51.20" y1="411.70" x2="70.50" y2="411.70" stroke="#c6122f" stroke-width="1.4" stroke-dasharray="3.6 2.0"/>
<circle cx="60.8" cy="411.70" r="2.15" fill="#c6122f"/>
<text x="73.00" y="414.40" font-size="6.86" fill="#1a1a1a" stroke="#1a1a1a" textLength="30.80" lengthAdjust="spacingAndGlyphs">NT (+D<tspan font-variant="small-caps">ox</tspan>)</text>
<line x1="51.20" y1="421.40" x2="70.50" y2="421.40" stroke="#3ab54a" stroke-width="1.4"/>
<circle cx="60.8" cy="421.40" r="2.15" fill="#3ab54a"/>
<text x="73.00" y="424.10" font-size="7.33" fill="#1a1a1a" stroke="#1a1a1a" textLength="52.00" lengthAdjust="spacingAndGlyphs">gRNA #1 (−D<tspan font-variant="small-caps">ox</tspan>)</text>
<line x1="51.20" y1="431.10" x2="70.50" y2="431.10" stroke="#3ab54a" stroke-width="1.4" stroke-dasharray="3.6 2.0"/>
<circle cx="60.8" cy="431.10" r="2.15" fill="#3ab54a"/>
<text x="73.00" y="433.80" font-size="7.33" fill="#1a1a1a" stroke="#1a1a1a" textLength="52.00" lengthAdjust="spacingAndGlyphs">gRNA #1 (+D<tspan font-variant="small-caps">ox</tspan>)</text>
<line x1="51.20" y1="440.80" x2="70.50" y2="440.80" stroke="#12508a" stroke-width="1.4"/>
<circle cx="60.8" cy="440.80" r="2.15" fill="#12508a"/>
<text x="73.00" y="443.50" font-size="7.33" fill="#1a1a1a" stroke="#1a1a1a" textLength="52.00" lengthAdjust="spacingAndGlyphs">gRNA #3 (−D<tspan font-variant="small-caps">ox</tspan>)</text>
<line x1="51.20" y1="450.50" x2="70.50" y2="450.50" stroke="#12508a" stroke-width="1.4" stroke-dasharray="3.6 2.0"/>
<circle cx="60.8" cy="450.50" r="2.15" fill="#12508a"/>
<text x="73.00" y="453.20" font-size="7.33" fill="#1a1a1a" stroke="#1a1a1a" textLength="52.00" lengthAdjust="spacingAndGlyphs">gRNA #3 (+D<tspan font-variant="small-caps">ox</tspan>)</text>
<text x="272.60" y="326.60" font-size="11" fill="#000" stroke="#000" font-weight="bold">H</text>
<text x="320.30" y="322.60" font-size="8.0" fill="#1a1a1a" stroke="#1a1a1a" textLength="20.30" lengthAdjust="spacingAndGlyphs">CAS9</text>
<text x="320.30" y="331.60" font-size="7.54" fill="#1a1a1a" stroke="#1a1a1a" textLength="20.80" lengthAdjust="spacingAndGlyphs">NT (<tspan fill="#c6122f" stroke="#c6122f">+</tspan>)</text>
<line x1="321.00" y1="335.20" x2="341.40" y2="335.20" stroke="#111" stroke-width="0.9"/>
<text x="347.90" y="322.60" font-size="7.68" fill="#3ab54a" stroke="#3ab54a" textLength="19.90" lengthAdjust="spacingAndGlyphs">gRNA</text>
<text x="347.90" y="331.60" font-size="7.76" fill="#1a1a1a" stroke="#1a1a1a" textLength="19.90" lengthAdjust="spacingAndGlyphs"><tspan fill="#3ab54a" stroke="#3ab54a">#1</tspan> (−)</text>
<line x1="344.00" y1="335.20" x2="371.20" y2="335.20" stroke="#111" stroke-width="0.9"/>
<text x="377.00" y="322.60" font-size="7.49" fill="#3ab54a" stroke="#3ab54a" textLength="19.40" lengthAdjust="spacingAndGlyphs">gRNA</text>
<text x="377.00" y="331.60" font-size="8.0" fill="#1a1a1a" stroke="#1a1a1a" textLength="20.70" lengthAdjust="spacingAndGlyphs"><tspan fill="#3ab54a" stroke="#3ab54a">#1</tspan> (<tspan fill="#c6122f" stroke="#c6122f">+</tspan>)</text>
<line x1="374.70" y1="335.20" x2="402.40" y2="335.20" stroke="#111" stroke-width="0.9"/>
<text x="405.50" y="322.60" font-size="7.8" fill="#12508a" stroke="#12508a" textLength="20.20" lengthAdjust="spacingAndGlyphs">gRNA</text>
<text x="405.50" y="331.60" font-size="8.0" fill="#1a1a1a" stroke="#1a1a1a" textLength="20.80" lengthAdjust="spacingAndGlyphs"><tspan fill="#12508a" stroke="#12508a">#3</tspan> (−)</text>
<line x1="405.00" y1="335.20" x2="432.20" y2="335.20" stroke="#111" stroke-width="0.9"/>
<text x="436.30" y="322.60" font-size="7.88" fill="#12508a" stroke="#12508a" textLength="20.40" lengthAdjust="spacingAndGlyphs">gRNA</text>
<text x="436.30" y="331.60" font-size="8.0" fill="#1a1a1a" stroke="#1a1a1a" textLength="20.80" lengthAdjust="spacingAndGlyphs"><tspan fill="#12508a" stroke="#12508a">#3</tspan> (<tspan fill="#c6122f" stroke="#c6122f">+</tspan>)</text>
<line x1="435.70" y1="335.20" x2="462.50" y2="335.20" stroke="#111" stroke-width="0.9"/>
<text x="322.85" y="363.70" font-size="7.9" text-anchor="end" textLength="22.40" lengthAdjust="spacingAndGlyphs" fill="#1a1a1a" stroke="#1a1a1a" transform="rotate(90 322.85 363.70)">DMSO</text>
<text x="333.75" y="363.70" font-size="7.9" text-anchor="end" textLength="16.20" lengthAdjust="spacingAndGlyphs" fill="#1a1a1a" stroke="#1a1a1a" transform="rotate(90 333.75 363.70)">5 µM</text>
<text x="344.55" y="363.70" font-size="7.9" text-anchor="end" textLength="22.40" lengthAdjust="spacingAndGlyphs" fill="#1a1a1a" stroke="#1a1a1a" transform="rotate(90 344.55 363.70)">DMSO</text>
<text x="353.65" y="363.70" font-size="7.9" text-anchor="end" textLength="27.40" lengthAdjust="spacingAndGlyphs" fill="#1a1a1a" stroke="#1a1a1a" transform="rotate(90 353.65 363.70)">0.31 µM</text>
<text x="363.75" y="363.70" font-size="7.9" text-anchor="end" textLength="16.20" lengthAdjust="spacingAndGlyphs" fill="#1a1a1a" stroke="#1a1a1a" transform="rotate(90 363.75 363.70)">5 µM</text>
<text x="373.55" y="363.70" font-size="7.9" text-anchor="end" textLength="22.40" lengthAdjust="spacingAndGlyphs" fill="#1a1a1a" stroke="#1a1a1a" transform="rotate(90 373.55 363.70)">DMSO</text>
<text x="383.15" y="363.70" font-size="7.9" text-anchor="end" textLength="27.40" lengthAdjust="spacingAndGlyphs" fill="#1a1a1a" stroke="#1a1a1a" transform="rotate(90 383.15 363.70)">0.31 µM</text>
<text x="393.65" y="363.70" font-size="7.9" text-anchor="end" textLength="16.20" lengthAdjust="spacingAndGlyphs" fill="#1a1a1a" stroke="#1a1a1a" transform="rotate(90 393.65 363.70)">5 µM</text>
<text x="403.95" y="363.70" font-size="7.9" text-anchor="end" textLength="22.40" lengthAdjust="spacingAndGlyphs" fill="#1a1a1a" stroke="#1a1a1a" transform="rotate(90 403.95 363.70)">DMSO</text>
<text x="413.75" y="363.70" font-size="7.9" text-anchor="end" textLength="27.40" lengthAdjust="spacingAndGlyphs" fill="#1a1a1a" stroke="#1a1a1a" transform="rotate(90 413.75 363.70)">0.31 µM</text>
<text x="422.95" y="363.70" font-size="7.9" text-anchor="end" textLength="16.20" lengthAdjust="spacingAndGlyphs" fill="#1a1a1a" stroke="#1a1a1a" transform="rotate(90 422.95 363.70)">5 µM</text>
<text x="431.95" y="363.70" font-size="7.9" text-anchor="end" textLength="22.40" lengthAdjust="spacingAndGlyphs" fill="#1a1a1a" stroke="#1a1a1a" transform="rotate(90 431.95 363.70)">DMSO</text>
<text x="441.85" y="363.70" font-size="7.9" text-anchor="end" textLength="27.40" lengthAdjust="spacingAndGlyphs" fill="#1a1a1a" stroke="#1a1a1a" transform="rotate(90 441.85 363.70)">0.31 µM</text>
<text x="451.85" y="363.70" font-size="7.9" text-anchor="end" textLength="16.20" lengthAdjust="spacingAndGlyphs" fill="#1a1a1a" stroke="#1a1a1a" transform="rotate(90 451.85 363.70)">5 µM</text>
<rect x="320.40" y="368.00" width="141.90" height="17.00" fill="#e7e7e7" stroke="#111" stroke-width="1.15"/>
<rect x="324.20" y="374.70" width="7.60" height="2.20" rx="1.10" fill="#000" opacity="0.95" filter="url(#b07)"/>
<rect x="333.92" y="375.20" width="7.60" height="2.00" rx="1.00" fill="#000" opacity="0.5" filter="url(#b07)"/>
<rect x="342.84" y="374.60" width="9.20" height="4.20" rx="2.10" fill="#000" opacity="1.0" filter="url(#b07)"/>
<rect x="353.36" y="375.10" width="7.60" height="2.20" rx="1.10" fill="#000" opacity="0.62" filter="url(#b07)"/>
<rect x="363.08" y="375.20" width="7.60" height="2.00" rx="1.00" fill="#000" opacity="0.45" filter="url(#b07)"/>
<rect x="372.80" y="375.20" width="7.60" height="2.00" rx="1.00" fill="#000" opacity="0.58" filter="url(#b07)"/>
<rect x="382.52" y="375.25" width="7.60" height="1.90" rx="0.95" fill="#000" opacity="0.3" filter="url(#b07)"/>
<rect x="392.24" y="375.25" width="7.60" height="1.90" rx="0.95" fill="#000" opacity="0.3" filter="url(#b07)"/>
<rect x="401.16" y="374.40" width="9.20" height="3.60" rx="1.80" fill="#000" opacity="1.0" filter="url(#b07)"/>
<rect x="411.68" y="374.90" width="7.60" height="2.60" rx="1.30" fill="#000" opacity="0.72" filter="url(#b07)"/>
<rect x="421.40" y="374.85" width="7.60" height="1.90" rx="0.95" fill="#000" opacity="0.3" filter="url(#b07)"/>
<rect x="431.12" y="375.25" width="7.60" height="1.90" rx="0.95" fill="#000" opacity="0.16" filter="url(#b07)"/>
<rect x="440.84" y="375.30" width="7.60" height="1.80" rx="0.90" fill="#000" opacity="0.07" filter="url(#b07)"/>
<rect x="450.56" y="375.30" width="7.60" height="1.80" rx="0.90" fill="#000" opacity="0.06" filter="url(#b07)"/>
<rect x="320.40" y="388.60" width="141.90" height="17.70" fill="#e5e5e5" stroke="#111" stroke-width="1.15"/>
<rect x="322.30" y="397.85" width="8.60" height="1.70" rx="0.85" fill="#000" opacity="0.95" filter="url(#b05)" transform="rotate(-3 326.60 398.70)"/>
<rect x="332.00" y="397.95" width="8.60" height="1.70" rx="0.85" fill="#000" opacity="0.95" filter="url(#b05)" transform="rotate(-3 336.30 398.80)"/>
<rect x="341.70" y="397.95" width="8.60" height="1.70" rx="0.85" fill="#000" opacity="0.95" filter="url(#b05)" transform="rotate(-3 346.00 398.80)"/>
<rect x="351.40" y="397.85" width="8.60" height="1.70" rx="0.85" fill="#000" opacity="0.95" filter="url(#b05)" transform="rotate(-3 355.70 398.70)"/>
<rect x="361.10" y="397.65" width="8.60" height="1.70" rx="0.85" fill="#000" opacity="0.95" filter="url(#b05)" transform="rotate(-3 365.40 398.50)"/>
<rect x="370.80" y="397.45" width="8.60" height="1.70" rx="0.85" fill="#000" opacity="0.95" filter="url(#b05)" transform="rotate(-3 375.10 398.30)"/>
<rect x="380.50" y="397.15" width="8.60" height="1.70" rx="0.85" fill="#000" opacity="0.95" filter="url(#b05)" transform="rotate(-3 384.80 398.00)"/>
<rect x="390.20" y="396.85" width="8.60" height="1.70" rx="0.85" fill="#000" opacity="0.95" filter="url(#b05)" transform="rotate(-6 394.50 397.70)"/>
<rect x="399.90" y="396.35" width="8.60" height="1.70" rx="0.85" fill="#000" opacity="0.95" filter="url(#b05)" transform="rotate(-6 404.20 397.20)"/>
<rect x="409.60" y="395.85" width="8.60" height="1.70" rx="0.85" fill="#000" opacity="0.95" filter="url(#b05)" transform="rotate(-6 413.90 396.70)"/>
<rect x="419.30" y="395.35" width="8.60" height="1.70" rx="0.85" fill="#000" opacity="0.95" filter="url(#b05)" transform="rotate(-6 423.60 396.20)"/>
<rect x="429.00" y="394.95" width="8.60" height="1.70" rx="0.85" fill="#000" opacity="0.7" filter="url(#b05)" transform="rotate(-6 433.30 395.80)"/>
<rect x="438.70" y="394.35" width="8.60" height="1.70" rx="0.85" fill="#000" opacity="0.95" filter="url(#b05)" transform="rotate(-6 443.00 395.20)"/>
<rect x="448.40" y="393.45" width="8.60" height="1.70" rx="0.85" fill="#000" opacity="0.95" filter="url(#b05)" transform="rotate(-6 452.70 394.30)"/>
<rect x="320.40" y="409.40" width="141.90" height="19.00" fill="#dcdcdc" stroke="#111" stroke-width="1.15"/>
<ellipse cx="327.30" cy="420.90" rx="4.75" ry="2.70" fill="#000" opacity="1.0" filter="url(#b1)"/>
<ellipse cx="337.10" cy="421.20" rx="4.05" ry="2.00" fill="#000" opacity="0.55" filter="url(#b1)"/>
<ellipse cx="346.90" cy="420.80" rx="5.55" ry="3.20" fill="#000" opacity="1.0" filter="url(#b1)"/>
<ellipse cx="356.70" cy="420.70" rx="4.45" ry="2.40" fill="#000" opacity="0.92" filter="url(#b1)"/>
<ellipse cx="366.50" cy="420.60" rx="4.45" ry="1.90" fill="#000" opacity="0.3" filter="url(#b1)"/>
<ellipse cx="376.30" cy="419.80" rx="4.25" ry="1.90" fill="#000" opacity="0.55" filter="url(#b1)"/>
<ellipse cx="386.10" cy="420.20" rx="4.25" ry="1.90" fill="#000" opacity="0.4" filter="url(#b1)"/>
<ellipse cx="395.90" cy="419.40" rx="4.25" ry="1.90" fill="#000" opacity="0.38" filter="url(#b1)"/>
<ellipse cx="405.70" cy="419.10" rx="5.25" ry="3.10" fill="#000" opacity="1.0" filter="url(#b1)"/>
<ellipse cx="415.50" cy="419.10" rx="4.65" ry="2.40" fill="#000" opacity="0.9" filter="url(#b1)"/>
<ellipse cx="425.30" cy="419.40" rx="4.25" ry="1.90" fill="#000" opacity="0.3" filter="url(#b1)"/>
<ellipse cx="435.10" cy="418.60" rx="4.65" ry="2.10" fill="#000" opacity="0.85" filter="url(#b1)"/>
<ellipse cx="444.90" cy="418.60" rx="3.95" ry="1.90" fill="#000" opacity="0.32" filter="url(#b1)"/>
<ellipse cx="454.70" cy="418.40" rx="3.95" ry="1.90" fill="#000" opacity="0.18" filter="url(#b1)"/>
<rect x="320.40" y="432.10" width="141.90" height="32.10" fill="#e9e9e9" stroke="#111" stroke-width="1.15"/>
<rect x="324.50" y="440.90" width="8.20" height="2.60" rx="1.30" fill="#000" opacity="0.22" filter="url(#b1)"/>
<rect x="343.94" y="440.70" width="8.20" height="3.00" rx="1.50" fill="#000" opacity="0.97" filter="url(#b07)"/>
<rect x="373.10" y="440.90" width="8.20" height="2.60" rx="1.30" fill="#000" opacity="0.3" filter="url(#b1)"/>
<rect x="402.26" y="440.70" width="8.20" height="3.00" rx="1.50" fill="#000" opacity="0.8" filter="url(#b07)"/>
<rect x="431.42" y="440.90" width="8.20" height="2.60" rx="1.30" fill="#000" opacity="0.36" filter="url(#b1)"/>
<rect x="344.70" y="447.70" width="7.00" height="1.60" rx="0.80" fill="#000" opacity="0.1" filter="url(#b1)"/>
<rect x="404.00" y="447.70" width="7.00" height="1.60" rx="0.80" fill="#000" opacity="0.08" filter="url(#b1)"/>
<rect x="323.80" y="453.20" width="9.60" height="2.00" rx="1.00" fill="#000" opacity="0.9" filter="url(#b07)"/>
<rect x="333.82" y="454.00" width="9.00" height="1.20" rx="0.60" fill="#000" opacity="0.16" filter="url(#b07)"/>
<rect x="342.64" y="452.80" width="10.80" height="3.40" rx="1.70" fill="#000" opacity="1.0" filter="url(#b07)"/>
<rect x="353.26" y="454.20" width="9.00" height="1.20" rx="0.60" fill="#000" opacity="0.14" filter="url(#b07)"/>
<rect x="372.70" y="453.50" width="9.00" height="2.20" rx="1.10" fill="#000" opacity="0.8" filter="url(#b07)"/>
<rect x="382.17" y="454.20" width="9.50" height="1.20" rx="0.60" fill="#000" opacity="0.2" filter="url(#b07)"/>
<rect x="391.89" y="454.20" width="9.50" height="1.20" rx="0.60" fill="#000" opacity="0.22" filter="url(#b07)"/>
<rect x="401.96" y="452.60" width="8.80" height="2.80" rx="1.40" fill="#000" opacity="0.95" filter="url(#b07)"/>
<rect x="411.33" y="453.00" width="9.50" height="1.20" rx="0.60" fill="#000" opacity="0.3" filter="url(#b07)"/>
<rect x="421.05" y="452.75" width="9.50" height="1.10" rx="0.55" fill="#000" opacity="0.18" filter="url(#b07)"/>
<rect x="431.02" y="451.80" width="9.00" height="2.40" rx="1.20" fill="#000" opacity="1.0" filter="url(#b07)"/>
<rect x="320.40" y="468.10" width="142.50" height="32.10" fill="#e8e8e8" stroke="#111" stroke-width="1.15"/>
<rect x="321.40" y="481.50" width="140.50" height="12.50" fill="#000" opacity="0.05" filter="url(#b1)"/>
<rect x="321.40" y="482.50" width="8.00" height="10.00" fill="#000" opacity="0.07" filter="url(#b1)"/>
<rect x="331.35" y="482.50" width="8.00" height="10.00" fill="#000" opacity="0.07" filter="url(#b1)"/>
<rect x="351.25" y="482.50" width="8.00" height="10.00" fill="#000" opacity="0.07" filter="url(#b1)"/>
<rect x="361.20" y="477.50" width="8.00" height="16.00" fill="#000" opacity="0.2" filter="url(#b1)"/>
<rect x="401.00" y="477.50" width="8.00" height="16.00" fill="#000" opacity="0.2" filter="url(#b1)"/>
<rect x="410.95" y="477.50" width="8.00" height="16.00" fill="#000" opacity="0.2" filter="url(#b1)"/>
<rect x="420.90" y="477.50" width="8.00" height="16.00" fill="#000" opacity="0.2" filter="url(#b1)"/>
<rect x="321.20" y="478.00" width="8.40" height="1.60" rx="0.80" fill="#000" opacity="0.28" filter="url(#b07)"/>
<rect x="321.20" y="483.70" width="8.40" height="1.60" rx="0.80" fill="#000" opacity="0.5" filter="url(#b07)"/>
<rect x="321.20" y="486.80" width="8.40" height="1.60" rx="0.80" fill="#000" opacity="0.3" filter="url(#b07)"/>
<rect x="321.20" y="489.90" width="8.40" height="1.60" rx="0.80" fill="#000" opacity="0.3" filter="url(#b07)"/>
<rect x="331.15" y="478.50" width="8.40" height="1.60" rx="0.80" fill="#000" opacity="0.28" filter="url(#b07)"/>
<rect x="331.15" y="484.50" width="8.40" height="1.60" rx="0.80" fill="#000" opacity="0.55" filter="url(#b07)"/>
<rect x="331.15" y="487.50" width="8.40" height="1.60" rx="0.80" fill="#000" opacity="0.3" filter="url(#b07)"/>
<rect x="331.15" y="490.50" width="8.40" height="1.60" rx="0.80" fill="#000" opacity="0.38" filter="url(#b07)"/>
<rect x="341.10" y="485.50" width="8.40" height="1.60" rx="0.80" fill="#000" opacity="0.06" filter="url(#b07)"/>
<rect x="351.05" y="479.70" width="8.40" height="1.60" rx="0.80" fill="#000" opacity="0.2" filter="url(#b07)"/>
<rect x="351.05" y="485.50" width="8.40" height="1.60" rx="0.80" fill="#000" opacity="0.58" filter="url(#b07)"/>
<rect x="351.05" y="488.40" width="8.40" height="1.60" rx="0.80" fill="#000" opacity="0.25" filter="url(#b07)"/>
<rect x="351.05" y="491.50" width="8.40" height="1.60" rx="0.80" fill="#000" opacity="0.3" filter="url(#b07)"/>
<rect x="361.00" y="476.00" width="8.40" height="1.60" rx="0.80" fill="#000" opacity="0.25" filter="url(#b07)"/>
<rect x="361.00" y="479.25" width="8.40" height="2.10" rx="1.05" fill="#000" opacity="0.9506" filter="url(#b07)"/>
<rect x="361.00" y="485.25" width="8.40" height="2.10" rx="1.05" fill="#000" opacity="0.97" filter="url(#b07)"/>
<rect x="361.00" y="488.45" width="8.40" height="2.10" rx="1.05" fill="#000" opacity="0.8245" filter="url(#b07)"/>
<rect x="361.00" y="491.55" width="8.40" height="2.10" rx="1.05" fill="#000" opacity="0.9506" filter="url(#b07)"/>
<rect x="370.95" y="479.50" width="8.40" height="1.60" rx="0.80" fill="#000" opacity="0.12" filter="url(#b07)"/>
<rect x="370.95" y="485.50" width="8.40" height="1.60" rx="0.80" fill="#000" opacity="0.32" filter="url(#b07)"/>
<rect x="370.95" y="491.00" width="8.40" height="1.60" rx="0.80" fill="#000" opacity="0.15" filter="url(#b07)"/>
<rect x="380.90" y="479.30" width="8.40" height="1.60" rx="0.80" fill="#000" opacity="0.12" filter="url(#b07)"/>
<rect x="380.90" y="485.30" width="8.40" height="1.60" rx="0.80" fill="#000" opacity="0.42" filter="url(#b07)"/>
<rect x="380.90" y="490.70" width="8.40" height="1.60" rx="0.80" fill="#000" opacity="0.2" filter="url(#b07)"/>
<rect x="390.85" y="479.00" width="8.40" height="1.60" rx="0.80" fill="#000" opacity="0.12" filter="url(#b07)"/>
<rect x="390.85" y="485.30" width="8.40" height="1.60" rx="0.80" fill="#000" opacity="0.32" filter="url(#b07)"/>
<rect x="390.85" y="488.50" width="8.40" height="1.60" rx="0.80" fill="#000" opacity="0.15" filter="url(#b07)"/>
<rect x="390.85" y="490.70" width="8.40" height="1.60" rx="0.80" fill="#000" opacity="0.18" filter="url(#b07)"/>
<rect x="400.80" y="474.50" width="8.40" height="1.60" rx="0.80" fill="#000" opacity="0.3" filter="url(#b07)"/>
<rect x="400.80" y="478.05" width="8.40" height="2.10" rx="1.05" fill="#000" opacity="0.8245" filter="url(#b07)"/>
<rect x="400.80" y="484.25" width="8.40" height="2.10" rx="1.05" fill="#000" opacity="0.9215" filter="url(#b07)"/>
<rect x="400.80" y="487.40" width="8.40" height="1.60" rx="0.80" fill="#000" opacity="0.6" filter="url(#b07)"/>
<rect x="400.80" y="490.45" width="8.40" height="2.10" rx="1.05" fill="#000" opacity="0.8924" filter="url(#b07)"/>
<rect x="410.75" y="474.10" width="8.40" height="1.60" rx="0.80" fill="#000" opacity="0.35" filter="url(#b07)"/>
<rect x="410.75" y="477.75" width="8.40" height="2.10" rx="1.05" fill="#000" opacity="0.97" filter="url(#b07)"/>
<rect x="410.75" y="483.25" width="8.40" height="2.10" rx="1.05" fill="#000" opacity="0.97" filter="url(#b07)"/>
<rect x="410.75" y="486.25" width="8.40" height="2.10" rx="1.05" fill="#000" opacity="0.8924" filter="url(#b07)"/>
<rect x="410.75" y="489.65" width="8.40" height="2.10" rx="1.05" fill="#000" opacity="0.97" filter="url(#b07)"/>
<rect x="420.70" y="473.80" width="8.40" height="1.60" rx="0.80" fill="#000" opacity="0.3" filter="url(#b07)"/>
<rect x="420.70" y="477.25" width="8.40" height="2.10" rx="1.05" fill="#000" opacity="0.8924" filter="url(#b07)"/>
<rect x="420.70" y="482.75" width="8.40" height="2.10" rx="1.05" fill="#000" opacity="0.97" filter="url(#b07)"/>
<rect x="420.70" y="485.85" width="8.40" height="2.10" rx="1.05" fill="#000" opacity="0.8245" filter="url(#b07)"/>
<rect x="420.70" y="488.95" width="8.40" height="2.10" rx="1.05" fill="#000" opacity="0.9215" filter="url(#b07)"/>
<rect x="430.65" y="477.50" width="8.40" height="1.60" rx="0.80" fill="#000" opacity="0.12" filter="url(#b07)"/>
<rect x="430.65" y="483.70" width="8.40" height="1.60" rx="0.80" fill="#000" opacity="0.22" filter="url(#b07)"/>
<rect x="430.65" y="486.10" width="8.40" height="1.60" rx="0.80" fill="#000" opacity="0.18" filter="url(#b07)"/>
<rect x="440.60" y="476.80" width="8.40" height="1.60" rx="0.80" fill="#000" opacity="0.15" filter="url(#b07)" transform="rotate(-4 444.80 477.60)"/>
<rect x="440.60" y="482.20" width="8.40" height="1.60" rx="0.80" fill="#000" opacity="0.34" filter="url(#b07)" transform="rotate(-4 444.80 483.00)"/>
<rect x="440.60" y="485.30" width="8.40" height="1.60" rx="0.80" fill="#000" opacity="0.25" filter="url(#b07)" transform="rotate(-4 444.80 486.10)"/>
<rect x="450.55" y="475.30" width="8.40" height="1.60" rx="0.80" fill="#000" opacity="0.5" filter="url(#b07)" transform="rotate(-4 454.75 476.10)"/>
<rect x="450.55" y="480.70" width="8.40" height="1.60" rx="0.80" fill="#000" opacity="0.55" filter="url(#b07)" transform="rotate(-4 454.75 481.50)"/>
<rect x="450.55" y="485.50" width="8.40" height="1.60" rx="0.80" fill="#000" opacity="0.55" filter="url(#b07)" transform="rotate(-4 454.75 486.30)"/>
<rect x="318.60" y="503.20" width="144.50" height="17.80" fill="#c2c2c2" stroke="#111" stroke-width="1.15"/>
<rect x="319.30" y="503.90" width="143.10" height="5.20" fill="#d6d6d6" opacity="0.85" filter="url(#b1)"/>
<rect x="319.30" y="513.60" width="143.10" height="6.60" fill="#a2a2a2" opacity="0.75" filter="url(#b1)"/>
<path d="M320.5,509.0 L326,510.0 L333,511.6 L341,511.3 L348,512.0 L356,511.4 L365,511.2 L374,511.0 L383,510.6 L392,511.0 L401,511.4 L407,512.0 L414,511.4 L423,511.0 L432,510.6 L441,510.8 L450,510.6 L456,510.0 L461.8,508.2" fill="none" stroke="#000" stroke-width="2.7" stroke-linecap="round" stroke-linejoin="round" filter="url(#b07)"/>
<ellipse cx="326.50" cy="511.20" rx="4.20" ry="1.80" fill="#000" opacity="0.8" filter="url(#b07)"/>
<ellipse cx="336.25" cy="511.20" rx="4.20" ry="1.80" fill="#000" opacity="0.8" filter="url(#b07)"/>
<ellipse cx="346.00" cy="511.70" rx="4.20" ry="2.70" fill="#000" opacity="0.8" filter="url(#b07)"/>
<ellipse cx="355.75" cy="511.20" rx="4.20" ry="1.80" fill="#000" opacity="0.8" filter="url(#b07)"/>
<ellipse cx="365.50" cy="511.20" rx="4.20" ry="1.80" fill="#000" opacity="0.8" filter="url(#b07)"/>
<ellipse cx="375.25" cy="511.20" rx="4.20" ry="1.80" fill="#000" opacity="0.8" filter="url(#b07)"/>
<ellipse cx="385.00" cy="511.20" rx="4.20" ry="1.80" fill="#000" opacity="0.8" filter="url(#b07)"/>
<ellipse cx="394.75" cy="511.20" rx="4.20" ry="1.80" fill="#000" opacity="0.8" filter="url(#b07)"/>
<ellipse cx="404.50" cy="511.70" rx="4.20" ry="2.70" fill="#000" opacity="0.8" filter="url(#b07)"/>
<ellipse cx="414.25" cy="511.20" rx="4.20" ry="1.80" fill="#000" opacity="0.8" filter="url(#b07)"/>
<ellipse cx="424.00" cy="511.20" rx="4.20" ry="1.80" fill="#000" opacity="0.8" filter="url(#b07)"/>
<ellipse cx="433.75" cy="511.20" rx="4.20" ry="1.80" fill="#000" opacity="0.8" filter="url(#b07)"/>
<ellipse cx="443.50" cy="511.20" rx="4.20" ry="1.80" fill="#000" opacity="0.8" filter="url(#b07)"/>
<ellipse cx="453.25" cy="511.20" rx="4.20" ry="1.80" fill="#000" opacity="0.8" filter="url(#b07)"/>
<ellipse cx="329.00" cy="517.20" rx="0.80" ry="0.70" fill="#000" opacity="0.6" filter="url(#b05)"/>
<ellipse cx="352.00" cy="517.60" rx="0.80" ry="0.70" fill="#000" opacity="0.6" filter="url(#b05)"/>
<ellipse cx="430.00" cy="518.20" rx="0.80" ry="0.70" fill="#000" opacity="0.6" filter="url(#b05)"/>
<ellipse cx="395.00" cy="508.20" rx="0.80" ry="0.70" fill="#000" opacity="0.6" filter="url(#b05)"/>
<ellipse cx="414.00" cy="507.80" rx="0.80" ry="0.70" fill="#000" opacity="0.6" filter="url(#b05)"/>
<ellipse cx="446.00" cy="507.60" rx="0.80" ry="0.70" fill="#000" opacity="0.6" filter="url(#b05)"/>
<text x="313.80" y="378.50" font-size="7.52" text-anchor="end" fill="#1a1a1a" stroke="#1a1a1a" textLength="28.00" lengthAdjust="spacingAndGlyphs">METTL3</text>
<text x="313.80" y="400.20" font-size="7.66" text-anchor="end" fill="#1a1a1a" stroke="#1a1a1a" textLength="25.20" lengthAdjust="spacingAndGlyphs">PRMT5</text>
<text x="313.80" y="422.40" font-size="7.75" text-anchor="end" fill="#1a1a1a" stroke="#1a1a1a" textLength="23.00" lengthAdjust="spacingAndGlyphs">c-MYC</text>
<text x="313.80" y="449.80" font-size="7.84" text-anchor="end" fill="#1a1a1a" stroke="#1a1a1a" textLength="22.00" lengthAdjust="spacingAndGlyphs">SDMA</text>
<text x="313.80" y="482.40" font-size="7.64" text-anchor="end" fill="#1a1a1a" stroke="#1a1a1a" textLength="27.20" lengthAdjust="spacingAndGlyphs">Cleaved</text>
<text x="313.80" y="490.60" font-size="7.59" text-anchor="end" fill="#1a1a1a" stroke="#1a1a1a" textLength="34.00" lengthAdjust="spacingAndGlyphs">caspase-3</text>
<text x="313.80" y="513.20" font-size="7.97" text-anchor="end" fill="#1a1a1a" stroke="#1a1a1a" textLength="17.20" lengthAdjust="spacingAndGlyphs">Actin</text>
<text x="465.00" y="378.50" font-size="7.61" fill="#1a1a1a" stroke="#1a1a1a" textLength="23.40" lengthAdjust="spacingAndGlyphs">75 kDa</text>
<text x="465.00" y="399.30" font-size="7.61" fill="#1a1a1a" stroke="#1a1a1a" textLength="23.40" lengthAdjust="spacingAndGlyphs">75 kDa</text>
<text x="465.00" y="421.90" font-size="7.61" fill="#1a1a1a" stroke="#1a1a1a" textLength="23.40" lengthAdjust="spacingAndGlyphs">63 kDa</text>
<text x="465.00" y="444.50" font-size="7.61" fill="#1a1a1a" stroke="#1a1a1a" textLength="23.40" lengthAdjust="spacingAndGlyphs">20 kDa</text>
<text x="465.00" y="457.60" font-size="7.61" fill="#1a1a1a" stroke="#1a1a1a" textLength="23.40" lengthAdjust="spacingAndGlyphs">17 kDa</text>
<text x="465.00" y="477.60" font-size="7.61" fill="#1a1a1a" stroke="#1a1a1a" textLength="23.40" lengthAdjust="spacingAndGlyphs">20 kDa</text>
<text x="465.00" y="490.70" font-size="7.61" fill="#1a1a1a" stroke="#1a1a1a" textLength="23.40" lengthAdjust="spacingAndGlyphs">15 kDa</text>
<text x="465.00" y="514.80" font-size="7.61" fill="#1a1a1a" stroke="#1a1a1a" textLength="23.40" lengthAdjust="spacingAndGlyphs">42 kDa</text>
<text x="7.60" y="537.20" font-size="11" fill="#000" stroke="#000" font-weight="bold">I</text>
<rect x="57.50" y="637.24" width="21.55" height="6.06" fill="#c6122f"/>
<line x1="89.75" y1="621.41" x2="89.75" y2="631.73" stroke="#111" stroke-width="0.95"/>
<line x1="87.55" y1="621.41" x2="91.95" y2="621.41" stroke="#111" stroke-width="1.05"/>
<rect x="79.00" y="631.73" width="21.55" height="11.57" fill="#12508a"/>
<line x1="111.25" y1="555.47" x2="111.25" y2="581.33" stroke="#111" stroke-width="0.95"/>
<line x1="109.05" y1="555.47" x2="113.45" y2="555.47" stroke="#111" stroke-width="1.05"/>
<rect x="100.50" y="581.33" width="21.55" height="61.97" fill="#3ab54a"/>
<rect x="122.00" y="637.24" width="21.55" height="6.06" fill="#e38b9c"/>
<line x1="154.25" y1="625.36" x2="154.25" y2="631.55" stroke="#111" stroke-width="0.95"/>
<line x1="152.05" y1="625.36" x2="156.45" y2="625.36" stroke="#111" stroke-width="1.05"/>
<rect x="143.50" y="631.55" width="21.55" height="11.75" fill="#89a8c7"/>
<line x1="175.75" y1="604.95" x2="175.75" y2="626.60" stroke="#111" stroke-width="0.95"/>
<line x1="173.55" y1="604.95" x2="177.95" y2="604.95" stroke="#111" stroke-width="1.05"/>
<rect x="165.00" y="626.60" width="21.55" height="16.70" fill="#9cd9a1"/>
<line x1="41.25" y1="540.50" x2="41.25" y2="643.90" stroke="#111" stroke-width="1.2"/>
<line x1="40.65" y1="643.30" x2="197.20" y2="643.30" stroke="#111" stroke-width="1.2"/>
<line x1="37.85" y1="643.30" x2="41.25" y2="643.30" stroke="#111" stroke-width="1.0"/>
<text x="35.95" y="646.05" font-size="7.8" text-anchor="end" fill="#1a1a1a" stroke="#1a1a1a">0</text>
<line x1="37.85" y1="630.93" x2="41.25" y2="630.93" stroke="#111" stroke-width="1.0"/>
<text x="35.95" y="633.68" font-size="7.8" text-anchor="end" fill="#1a1a1a" stroke="#1a1a1a">2</text>
<line x1="37.85" y1="618.56" x2="41.25" y2="618.56" stroke="#111" stroke-width="1.0"/>
<text x="35.95" y="621.31" font-size="7.8" text-anchor="end" fill="#1a1a1a" stroke="#1a1a1a">4</text>
<line x1="37.85" y1="606.19" x2="41.25" y2="606.19" stroke="#111" stroke-width="1.0"/>
<text x="35.95" y="608.94" font-size="7.8" text-anchor="end" fill="#1a1a1a" stroke="#1a1a1a">6</text>
<line x1="37.85" y1="593.82" x2="41.25" y2="593.82" stroke="#111" stroke-width="1.0"/>
<text x="35.95" y="596.57" font-size="7.8" text-anchor="end" fill="#1a1a1a" stroke="#1a1a1a">8</text>
<line x1="37.85" y1="581.45" x2="41.25" y2="581.45" stroke="#111" stroke-width="1.0"/>
<text x="35.95" y="584.20" font-size="7.8" text-anchor="end" fill="#1a1a1a" stroke="#1a1a1a">10</text>
<line x1="37.85" y1="569.08" x2="41.25" y2="569.08" stroke="#111" stroke-width="1.0"/>
<text x="35.95" y="571.83" font-size="7.8" text-anchor="end" fill="#1a1a1a" stroke="#1a1a1a">12</text>
<line x1="37.85" y1="556.71" x2="41.25" y2="556.71" stroke="#111" stroke-width="1.0"/>
<text x="35.95" y="559.46" font-size="7.8" text-anchor="end" fill="#1a1a1a" stroke="#1a1a1a">14</text>
<line x1="37.85" y1="544.34" x2="41.25" y2="544.34" stroke="#111" stroke-width="1.0"/>
<text x="35.95" y="547.09" font-size="7.8" text-anchor="end" fill="#1a1a1a" stroke="#1a1a1a">16</text>
<line x1="122.00" y1="643.30" x2="122.00" y2="645.90" stroke="#111" stroke-width="0.9"/>
<text x="122.00" y="655.60" font-size="7.56" text-anchor="middle" fill="#1a1a1a" stroke="#1a1a1a" textLength="21.20" lengthAdjust="spacingAndGlyphs">PUMA</text>
<text x="19.75" y="636.50" font-size="9.4" textLength="89.50" lengthAdjust="spacingAndGlyphs" fill="#1a1a1a" stroke="#1a1a1a" stroke-width="0.5" transform="rotate(-90 19.75 636.50)">mRNA expression (fold change)</text>
<text x="89.60" y="618.50" font-size="6.2" text-anchor="middle" fill="#000" stroke="#000" font-weight="bold">*</text>
<text x="110.80" y="551.70" font-size="6.2" text-anchor="middle" fill="#000" stroke="#000" font-weight="bold" textLength="5.90" lengthAdjust="spacingAndGlyphs">**</text>
<rect x="128.30" y="547.40" width="4.40" height="4.40" fill="#c6122f"/>
<text x="135.50" y="552.20" font-size="7.28" fill="#1a1a1a" stroke="#1a1a1a" textLength="44.60" lengthAdjust="spacingAndGlyphs">DMSO (−D<tspan font-variant="small-caps">ox</tspan>)</text>
<rect x="128.30" y="555.50" width="4.40" height="4.40" fill="#12508a"/>
<text x="135.50" y="560.30" font-size="7.27" fill="#1a1a1a" stroke="#1a1a1a" textLength="49.00" lengthAdjust="spacingAndGlyphs">0.31 µM (−D<tspan font-variant="small-caps">ox</tspan>)</text>
<rect x="128.30" y="563.60" width="4.40" height="4.40" fill="#89a8c7"/>
<text x="135.50" y="568.40" font-size="7.27" fill="#1a1a1a" stroke="#1a1a1a" textLength="49.00" lengthAdjust="spacingAndGlyphs">0.31 µM (+D<tspan font-variant="small-caps">ox</tspan>)</text>
<rect x="197.20" y="547.40" width="4.40" height="4.40" fill="#e38b9c"/>
<text x="204.40" y="552.20" font-size="7.35" fill="#1a1a1a" stroke="#1a1a1a" textLength="45.00" lengthAdjust="spacingAndGlyphs">DMSO (+D<tspan font-variant="small-caps">ox</tspan>)</text>
<rect x="197.20" y="555.50" width="4.40" height="4.40" fill="#3ab54a"/>
<text x="204.40" y="560.30" font-size="7.24" fill="#1a1a1a" stroke="#1a1a1a" textLength="39.00" lengthAdjust="spacingAndGlyphs">5 µM (−D<tspan font-variant="small-caps">ox</tspan>)</text>
<rect x="197.20" y="563.60" width="4.40" height="4.40" fill="#9cd9a1"/>
<text x="204.40" y="568.40" font-size="7.24" fill="#1a1a1a" stroke="#1a1a1a" textLength="39.00" lengthAdjust="spacingAndGlyphs">5 µM (+D<tspan font-variant="small-caps">ox</tspan>)</text>
<text x="286.60" y="537.40" font-size="11" fill="#000" stroke="#000" font-weight="bold">J</text>
<line x1="332.70" y1="625.05" x2="332.70" y2="630.03" stroke="#111" stroke-width="0.95"/>
<line x1="330.40" y1="625.05" x2="335.00" y2="625.05" stroke="#111" stroke-width="1.05"/>
<rect x="324.50" y="630.03" width="16.40" height="5.95" fill="#c6122f"/>
<rect x="324.50" y="635.78" width="16.40" height="7.52" fill="#12508a"/>
<line x1="332.70" y1="632.57" x2="332.70" y2="635.78" stroke="#111" stroke-width="0.95"/>
<line x1="330.90" y1="632.57" x2="334.50" y2="632.57" stroke="#111" stroke-width="1.05"/>
<line x1="360.95" y1="603.58" x2="360.95" y2="613.05" stroke="#111" stroke-width="0.95"/>
<line x1="358.65" y1="603.58" x2="363.25" y2="603.58" stroke="#111" stroke-width="1.05"/>
<rect x="352.75" y="613.05" width="16.40" height="10.42" fill="#c6122f"/>
<rect x="352.75" y="623.27" width="16.40" height="20.03" fill="#12508a"/>
<line x1="360.95" y1="616.26" x2="360.95" y2="623.27" stroke="#111" stroke-width="0.95"/>
<line x1="359.15" y1="616.26" x2="362.75" y2="616.26" stroke="#111" stroke-width="1.05"/>
<line x1="389.20" y1="568.09" x2="389.20" y2="574.86" stroke="#111" stroke-width="0.95"/>
<line x1="386.90" y1="568.09" x2="391.50" y2="568.09" stroke="#111" stroke-width="1.05"/>
<rect x="381.00" y="574.86" width="16.40" height="16.93" fill="#c6122f"/>
<rect x="381.00" y="591.59" width="16.40" height="51.71" fill="#12508a"/>
<line x1="389.20" y1="573.84" x2="389.20" y2="591.59" stroke="#111" stroke-width="0.95"/>
<line x1="387.40" y1="573.84" x2="391.00" y2="573.84" stroke="#111" stroke-width="1.05"/>
<line x1="416.70" y1="619.81" x2="416.70" y2="627.84" stroke="#111" stroke-width="0.95"/>
<line x1="414.40" y1="619.81" x2="419.00" y2="619.81" stroke="#111" stroke-width="1.05"/>
<rect x="408.50" y="627.84" width="16.40" height="8.14" fill="#c6122f"/>
<rect x="408.50" y="635.78" width="16.40" height="7.52" fill="#12508a"/>
<line x1="416.70" y1="634.43" x2="416.70" y2="635.78" stroke="#111" stroke-width="0.95"/>
<line x1="414.90" y1="634.43" x2="418.50" y2="634.43" stroke="#111" stroke-width="1.05"/>
<line x1="444.70" y1="608.06" x2="444.70" y2="616.26" stroke="#111" stroke-width="0.95"/>
<line x1="442.40" y1="608.06" x2="447.00" y2="608.06" stroke="#111" stroke-width="1.05"/>
<rect x="436.50" y="616.26" width="16.40" height="10.00" fill="#c6122f"/>
<rect x="436.50" y="626.06" width="16.40" height="17.24" fill="#12508a"/>
<line x1="444.70" y1="625.05" x2="444.70" y2="626.06" stroke="#111" stroke-width="0.95"/>
<line x1="442.90" y1="625.05" x2="446.50" y2="625.05" stroke="#111" stroke-width="1.05"/>
<line x1="472.80" y1="591.75" x2="472.80" y2="598.26" stroke="#111" stroke-width="0.95"/>
<line x1="470.50" y1="591.75" x2="475.10" y2="591.75" stroke="#111" stroke-width="1.05"/>
<rect x="464.60" y="598.26" width="16.40" height="14.48" fill="#c6122f"/>
<rect x="464.60" y="612.54" width="16.40" height="30.76" fill="#12508a"/>
<line x1="472.80" y1="610.34" x2="472.80" y2="612.54" stroke="#111" stroke-width="0.95"/>
<line x1="471.00" y1="610.34" x2="474.60" y2="610.34" stroke="#111" stroke-width="1.05"/>
<line x1="318.25" y1="555.00" x2="318.25" y2="643.90" stroke="#111" stroke-width="1.2"/>
<line x1="317.65" y1="643.30" x2="486.80" y2="643.30" stroke="#111" stroke-width="1.2"/>
<line x1="314.85" y1="643.30" x2="318.25" y2="643.30" stroke="#111" stroke-width="1.0"/>
<text x="312.95" y="646.05" font-size="7.8" text-anchor="end" fill="#1a1a1a" stroke="#1a1a1a">0</text>
<line x1="314.85" y1="634.85" x2="318.25" y2="634.85" stroke="#111" stroke-width="1.0"/>
<text x="312.95" y="637.60" font-size="7.8" text-anchor="end" fill="#1a1a1a" stroke="#1a1a1a">1</text>
<line x1="314.85" y1="626.40" x2="318.25" y2="626.40" stroke="#111" stroke-width="1.0"/>
<text x="312.95" y="629.15" font-size="7.8" text-anchor="end" fill="#1a1a1a" stroke="#1a1a1a">2</text>
<line x1="314.85" y1="617.95" x2="318.25" y2="617.95" stroke="#111" stroke-width="1.0"/>
<text x="312.95" y="620.70" font-size="7.8" text-anchor="end" fill="#1a1a1a" stroke="#1a1a1a">3</text>
<line x1="314.85" y1="609.50" x2="318.25" y2="609.50" stroke="#111" stroke-width="1.0"/>
<text x="312.95" y="612.25" font-size="7.8" text-anchor="end" fill="#1a1a1a" stroke="#1a1a1a">4</text>
<line x1="314.85" y1="601.05" x2="318.25" y2="601.05" stroke="#111" stroke-width="1.0"/>
<text x="312.95" y="603.80" font-size="7.8" text-anchor="end" fill="#1a1a1a" stroke="#1a1a1a">5</text>
<line x1="314.85" y1="592.60" x2="318.25" y2="592.60" stroke="#111" stroke-width="1.0"/>
<text x="312.95" y="595.35" font-size="7.8" text-anchor="end" fill="#1a1a1a" stroke="#1a1a1a">6</text>
<line x1="314.85" y1="584.15" x2="318.25" y2="584.15" stroke="#111" stroke-width="1.0"/>
<text x="312.95" y="586.90" font-size="7.8" text-anchor="end" fill="#1a1a1a" stroke="#1a1a1a">7</text>
<line x1="314.85" y1="575.70" x2="318.25" y2="575.70" stroke="#111" stroke-width="1.0"/>
<text x="312.95" y="578.45" font-size="7.8" text-anchor="end" fill="#1a1a1a" stroke="#1a1a1a">8</text>
<line x1="314.85" y1="567.25" x2="318.25" y2="567.25" stroke="#111" stroke-width="1.0"/>
<text x="312.95" y="570.00" font-size="7.8" text-anchor="end" fill="#1a1a1a" stroke="#1a1a1a">9</text>
<line x1="314.85" y1="558.80" x2="318.25" y2="558.80" stroke="#111" stroke-width="1.0"/>
<text x="312.95" y="561.55" font-size="7.8" text-anchor="end" fill="#1a1a1a" stroke="#1a1a1a">10</text>
<line x1="318.25" y1="643.30" x2="318.25" y2="668.00" stroke="#111" stroke-width="0.9"/>
<line x1="402.60" y1="643.30" x2="402.60" y2="668.00" stroke="#111" stroke-width="0.9"/>
<line x1="486.80" y1="643.30" x2="486.80" y2="668.00" stroke="#111" stroke-width="0.9"/>
<text x="332.50" y="655.60" font-size="7.76" text-anchor="middle" fill="#1a1a1a" stroke="#1a1a1a" textLength="22.60" lengthAdjust="spacingAndGlyphs">DMSO</text>
<text x="361.00" y="655.60" font-size="7.94" text-anchor="middle" fill="#1a1a1a" stroke="#1a1a1a" textLength="28.00" lengthAdjust="spacingAndGlyphs">0.31 µM</text>
<text x="389.30" y="655.60" font-size="7.62" text-anchor="middle" fill="#1a1a1a" stroke="#1a1a1a" textLength="16.60" lengthAdjust="spacingAndGlyphs">5 µM</text>
<text x="416.80" y="655.60" font-size="7.76" text-anchor="middle" fill="#1a1a1a" stroke="#1a1a1a" textLength="22.60" lengthAdjust="spacingAndGlyphs">DMSO</text>
<text x="444.50" y="655.60" font-size="7.82" text-anchor="middle" fill="#1a1a1a" stroke="#1a1a1a" textLength="27.60" lengthAdjust="spacingAndGlyphs">0.31 µM</text>
<text x="472.90" y="655.60" font-size="7.71" text-anchor="middle" fill="#1a1a1a" stroke="#1a1a1a" textLength="16.80" lengthAdjust="spacingAndGlyphs">5 µM</text>
<text x="361.00" y="667.90" font-size="10.2" text-anchor="middle" fill="#1a1a1a" stroke="#1a1a1a" stroke-width="0.45" textLength="18.40" lengthAdjust="spacingAndGlyphs">(−D<tspan font-variant="small-caps">ox</tspan>)</text>
<text x="444.80" y="667.90" font-size="10.2" text-anchor="middle" fill="#1a1a1a" stroke="#1a1a1a" stroke-width="0.45" textLength="19.40" lengthAdjust="spacingAndGlyphs">(+D<tspan font-variant="small-caps">ox</tspan>)</text>
<text x="297.80" y="638.60" font-size="9.4" textLength="78.00" lengthAdjust="spacingAndGlyphs" fill="#1a1a1a" stroke="#1a1a1a" stroke-width="0.5" transform="rotate(-90 297.80 638.60)">Percentage (apoptotic/live)</text>
<rect x="451.20" y="557.30" width="4.40" height="4.40" fill="#c6122f"/>
<text x="458.40" y="562.10" font-size="7.32" fill="#1a1a1a" stroke="#1a1a1a" textLength="17.00" lengthAdjust="spacingAndGlyphs">Dead</text>
<rect x="451.20" y="565.80" width="4.40" height="4.40" fill="#12508a"/>
<text x="458.40" y="570.60" font-size="7.41" fill="#1a1a1a" stroke="#1a1a1a" textLength="30.00" lengthAdjust="spacingAndGlyphs">Apoptotic</text>
<rect x="0.5" y="0.5" width="519" height="676" fill="none" stroke="#000" stroke-width="1"/>
</svg>
</body>
</html>
